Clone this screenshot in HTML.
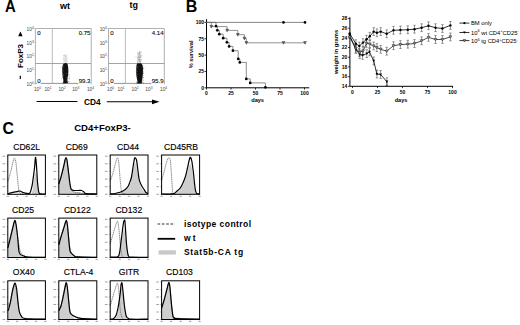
<!DOCTYPE html>
<html><head><meta charset="utf-8"><style>
html,body{margin:0;padding:0;background:#fff;width:520px;height:325px;overflow:hidden}
svg{display:block}
text{font-family:"Liberation Sans",sans-serif}
</style></head><body>
<svg width="520" height="325" viewBox="0 0 520 325">
<rect width="520" height="325" fill="#fff"/>
<text transform="translate(4.9,11.8) scale(0.94,1)" font-size="15.8" font-weight="bold">A</text>
<text x="65" y="8.6" font-size="9" font-weight="bold" text-anchor="middle" fill="#000" >wt</text>
<text x="133.8" y="7.9" font-size="9" font-weight="bold" text-anchor="middle" fill="#000" >tg</text>
<text x="30.2" y="85.7" font-size="4.8" fill="#444" text-anchor="middle">10<tspan font-size="3.3" dy="-2">0</tspan></text>
<line x1="34.199999999999996" y1="83.4" x2="35.4" y2="83.4" stroke="#888" stroke-width="0.4"/>
<text x="30.2" y="71.97500000000001" font-size="4.8" fill="#444" text-anchor="middle">10<tspan font-size="3.3" dy="-2">1</tspan></text>
<line x1="34.199999999999996" y1="69.67500000000001" x2="35.4" y2="69.67500000000001" stroke="#888" stroke-width="0.4"/>
<text x="30.2" y="58.25" font-size="4.8" fill="#444" text-anchor="middle">10<tspan font-size="3.3" dy="-2">2</tspan></text>
<line x1="34.199999999999996" y1="55.95" x2="35.4" y2="55.95" stroke="#888" stroke-width="0.4"/>
<text x="30.2" y="44.525" font-size="4.8" fill="#444" text-anchor="middle">10<tspan font-size="3.3" dy="-2">3</tspan></text>
<line x1="34.199999999999996" y1="42.225" x2="35.4" y2="42.225" stroke="#888" stroke-width="0.4"/>
<text x="30.2" y="30.8" font-size="4.8" fill="#444" text-anchor="middle">10<tspan font-size="3.3" dy="-2">4</tspan></text>
<line x1="34.199999999999996" y1="28.5" x2="35.4" y2="28.5" stroke="#888" stroke-width="0.4"/>
<text x="37.5" y="91.30000000000001" font-size="4.8" fill="#444" text-anchor="middle">10<tspan font-size="3.3" dy="-2">0</tspan></text>
<text x="48.0" y="91.30000000000001" font-size="4.8" fill="#444" text-anchor="middle">10<tspan font-size="3.3" dy="-2">1</tspan></text>
<text x="62.0" y="91.30000000000001" font-size="4.8" fill="#444" text-anchor="middle">10<tspan font-size="3.3" dy="-2">2</tspan></text>
<text x="75.8" y="91.30000000000001" font-size="4.8" fill="#444" text-anchor="middle">10<tspan font-size="3.3" dy="-2">3</tspan></text>
<text x="90.5" y="91.30000000000001" font-size="4.8" fill="#444" text-anchor="middle">10<tspan font-size="3.3" dy="-2">4</tspan></text>
<line x1="35.4" y1="83.4" x2="35.4" y2="84.60000000000001" stroke="#888" stroke-width="0.4"/>
<line x1="49.35" y1="83.4" x2="49.35" y2="84.60000000000001" stroke="#888" stroke-width="0.4"/>
<line x1="63.3" y1="83.4" x2="63.3" y2="84.60000000000001" stroke="#888" stroke-width="0.4"/>
<line x1="77.25" y1="83.4" x2="77.25" y2="84.60000000000001" stroke="#888" stroke-width="0.4"/>
<line x1="91.2" y1="83.4" x2="91.2" y2="84.60000000000001" stroke="#888" stroke-width="0.4"/>
<path d="M35.4,83.4 V28.5 H91.2 V83.4" fill="none" stroke="#b0b0b0" stroke-width="1"/>
<path d="M35.4,83.4 H91.2" fill="none" stroke="#8a8a8a" stroke-width="0.9"/>
<line x1="52.3" y1="28.5" x2="52.3" y2="83.4" stroke="#b4b4b4" stroke-width="0.9"/>
<line x1="35.4" y1="63.5" x2="91.2" y2="63.5" stroke="#9a9a9a" stroke-width="0.9"/>
<ellipse cx="65.2" cy="59.5" rx="2.4" ry="4.5" fill="#c8c8c8" opacity="0.35"/>
<rect x="64.9" y="59.9" width="0.7" height="0.7" fill="#c8c8c8"/>
<rect x="65.8" y="54.7" width="0.7" height="0.7" fill="#c8c8c8"/>
<rect x="64.1" y="54.5" width="0.7" height="0.7" fill="#c8c8c8"/>
<rect x="64.9" y="58.6" width="0.7" height="0.7" fill="#c8c8c8"/>
<rect x="66.4" y="54.6" width="0.7" height="0.7" fill="#c8c8c8"/>
<rect x="65.5" y="54.8" width="0.7" height="0.7" fill="#c8c8c8"/>
<rect x="63.2" y="55.1" width="0.7" height="0.7" fill="#c8c8c8"/>
<rect x="66.2" y="56.0" width="0.7" height="0.7" fill="#c8c8c8"/>
<rect x="63.2" y="59.2" width="0.7" height="0.7" fill="#c8c8c8"/>
<rect x="63.1" y="57.6" width="0.7" height="0.7" fill="#c8c8c8"/>
<rect x="65.6" y="61.7" width="0.7" height="0.7" fill="#c8c8c8"/>
<rect x="65.1" y="56.6" width="0.7" height="0.7" fill="#c8c8c8"/>
<rect x="65.6" y="56.8" width="0.7" height="0.7" fill="#c8c8c8"/>
<rect x="65.7" y="61.3" width="0.7" height="0.7" fill="#c8c8c8"/>
<rect x="65.9" y="59.8" width="0.7" height="0.7" fill="#c8c8c8"/>
<rect x="66.6" y="57.4" width="0.7" height="0.7" fill="#c8c8c8"/>
<rect x="64.8" y="54.5" width="0.7" height="0.7" fill="#c8c8c8"/>
<rect x="65.1" y="55.9" width="0.7" height="0.7" fill="#c8c8c8"/>
<rect x="64.7" y="56.8" width="0.7" height="0.7" fill="#c8c8c8"/>
<rect x="64.1" y="59.3" width="0.7" height="0.7" fill="#c8c8c8"/>
<rect x="64.2" y="61.1" width="0.7" height="0.7" fill="#c8c8c8"/>
<rect x="65.5" y="60.3" width="0.7" height="0.7" fill="#c8c8c8"/>
<rect x="65.3" y="58.7" width="0.7" height="0.7" fill="#c8c8c8"/>
<rect x="66.8" y="61.9" width="0.7" height="0.7" fill="#c8c8c8"/>
<rect x="65.1" y="62.8" width="0.7" height="0.7" fill="#c8c8c8"/>
<rect x="64.2" y="55.1" width="0.7" height="0.7" fill="#c8c8c8"/>
<rect x="63.4" y="55.4" width="0.7" height="0.7" fill="#c8c8c8"/>
<rect x="66.2" y="58.4" width="0.7" height="0.7" fill="#c8c8c8"/>
<rect x="66.9" y="60.9" width="0.7" height="0.7" fill="#c8c8c8"/>
<rect x="65.6" y="59.2" width="0.7" height="0.7" fill="#c8c8c8"/>
<path d="M65.60,62.90 C65.87,63.02 66.80,63.08 67.20,63.60 C67.60,64.12 67.82,64.93 68.00,66.00 C68.18,67.07 68.30,68.50 68.30,70.00 C68.30,71.50 68.15,73.33 68.00,75.00 C67.85,76.67 67.43,78.75 67.40,80.00 C67.37,81.25 67.78,81.95 67.80,82.50 C67.82,83.05 68.30,83.17 67.50,83.30 C66.70,83.43 63.70,83.52 63.00,83.30 C62.30,83.08 63.25,82.55 63.30,82.00 C63.35,81.45 63.42,81.17 63.30,80.00 C63.18,78.83 62.78,76.67 62.60,75.00 C62.42,73.33 62.22,71.50 62.20,70.00 C62.18,68.50 62.23,67.07 62.50,66.00 C62.77,64.93 63.28,64.12 63.80,63.60 C64.32,63.08 65.30,63.02 65.60,62.90Z" fill="#111"/>
<rect x="67.8" y="81.0" width="0.6" height="0.6" fill="#666"/>
<rect x="68.6" y="74.0" width="0.6" height="0.6" fill="#666"/>
<rect x="63.1" y="66.2" width="0.6" height="0.6" fill="#666"/>
<rect x="62.1" y="77.1" width="0.6" height="0.6" fill="#666"/>
<rect x="66.8" y="78.4" width="0.6" height="0.6" fill="#666"/>
<rect x="66.3" y="80.0" width="0.6" height="0.6" fill="#666"/>
<rect x="68.9" y="78.1" width="0.6" height="0.6" fill="#666"/>
<rect x="62.5" y="68.0" width="0.6" height="0.6" fill="#666"/>
<rect x="62.4" y="74.0" width="0.6" height="0.6" fill="#666"/>
<rect x="67.7" y="69.5" width="0.6" height="0.6" fill="#666"/>
<rect x="68.8" y="81.8" width="0.6" height="0.6" fill="#666"/>
<rect x="62.8" y="75.0" width="0.6" height="0.6" fill="#666"/>
<rect x="67.5" y="80.0" width="0.6" height="0.6" fill="#666"/>
<rect x="66.1" y="77.5" width="0.6" height="0.6" fill="#666"/>
<rect x="62.7" y="82.5" width="0.6" height="0.6" fill="#666"/>
<rect x="62.6" y="77.0" width="0.6" height="0.6" fill="#666"/>
<rect x="62.4" y="73.8" width="0.6" height="0.6" fill="#666"/>
<rect x="68.2" y="72.6" width="0.6" height="0.6" fill="#666"/>
<rect x="69.1" y="76.1" width="0.6" height="0.6" fill="#666"/>
<rect x="62.1" y="74.4" width="0.6" height="0.6" fill="#666"/>
<rect x="67.5" y="73.3" width="0.6" height="0.6" fill="#666"/>
<rect x="68.5" y="73.8" width="0.6" height="0.6" fill="#666"/>
<rect x="63.2" y="66.0" width="0.6" height="0.6" fill="#666"/>
<rect x="62.3" y="66.9" width="0.6" height="0.6" fill="#666"/>
<rect x="60.7" y="66.8" width="0.6" height="0.6" fill="#666"/>
<rect x="62.0" y="76.2" width="0.6" height="0.6" fill="#666"/>
<rect x="68.4" y="81.0" width="0.6" height="0.6" fill="#666"/>
<rect x="68.5" y="71.3" width="0.6" height="0.6" fill="#666"/>
<rect x="63.7" y="73.6" width="0.6" height="0.6" fill="#666"/>
<rect x="66.3" y="73.5" width="0.6" height="0.6" fill="#666"/>
<rect x="62.9" y="70.6" width="0.6" height="0.6" fill="#666"/>
<rect x="62.8" y="69.8" width="0.6" height="0.6" fill="#666"/>
<rect x="63.2" y="74.4" width="0.6" height="0.6" fill="#666"/>
<rect x="62.1" y="67.6" width="0.6" height="0.6" fill="#666"/>
<rect x="69.5" y="78.8" width="0.6" height="0.6" fill="#666"/>
<rect x="67.9" y="77.7" width="0.6" height="0.6" fill="#666"/>
<rect x="62.1" y="74.4" width="0.6" height="0.6" fill="#666"/>
<rect x="68.5" y="74.9" width="0.6" height="0.6" fill="#666"/>
<rect x="62.8" y="76.6" width="0.6" height="0.6" fill="#666"/>
<rect x="61.2" y="78.5" width="0.6" height="0.6" fill="#666"/>
<rect x="36.9" y="78.4" width="4" height="5.5" fill="#fff"/>
<rect x="78.2" y="78.4" width="12.6" height="5.5" fill="#fff"/>
<text x="37.199999999999996" y="34.6" font-size="6.1" text-anchor="start" fill="#111" stroke="#111" stroke-width="0.12">0</text>
<text x="90.5" y="34.6" font-size="6.1" text-anchor="end" fill="#111" stroke="#111" stroke-width="0.12">0.75</text>
<text x="37.199999999999996" y="82.9" font-size="6.1" text-anchor="start" fill="#111" stroke="#111" stroke-width="0.12">0</text>
<text x="90.5" y="83.10000000000001" font-size="6.1" text-anchor="end" fill="#111" stroke="#111" stroke-width="0.12">99.3</text>
<text x="103.3" y="85.7" font-size="4.8" fill="#444" text-anchor="middle">10<tspan font-size="3.3" dy="-2">0</tspan></text>
<line x1="107.3" y1="83.4" x2="108.5" y2="83.4" stroke="#888" stroke-width="0.4"/>
<text x="103.3" y="71.97500000000001" font-size="4.8" fill="#444" text-anchor="middle">10<tspan font-size="3.3" dy="-2">1</tspan></text>
<line x1="107.3" y1="69.67500000000001" x2="108.5" y2="69.67500000000001" stroke="#888" stroke-width="0.4"/>
<text x="103.3" y="58.25" font-size="4.8" fill="#444" text-anchor="middle">10<tspan font-size="3.3" dy="-2">2</tspan></text>
<line x1="107.3" y1="55.95" x2="108.5" y2="55.95" stroke="#888" stroke-width="0.4"/>
<text x="103.3" y="44.525" font-size="4.8" fill="#444" text-anchor="middle">10<tspan font-size="3.3" dy="-2">3</tspan></text>
<line x1="107.3" y1="42.225" x2="108.5" y2="42.225" stroke="#888" stroke-width="0.4"/>
<text x="103.3" y="30.8" font-size="4.8" fill="#444" text-anchor="middle">10<tspan font-size="3.3" dy="-2">4</tspan></text>
<line x1="107.3" y1="28.5" x2="108.5" y2="28.5" stroke="#888" stroke-width="0.4"/>
<text x="110.6" y="91.30000000000001" font-size="4.8" fill="#444" text-anchor="middle">10<tspan font-size="3.3" dy="-2">0</tspan></text>
<text x="121.1" y="91.30000000000001" font-size="4.8" fill="#444" text-anchor="middle">10<tspan font-size="3.3" dy="-2">1</tspan></text>
<text x="135.1" y="91.30000000000001" font-size="4.8" fill="#444" text-anchor="middle">10<tspan font-size="3.3" dy="-2">2</tspan></text>
<text x="148.9" y="91.30000000000001" font-size="4.8" fill="#444" text-anchor="middle">10<tspan font-size="3.3" dy="-2">3</tspan></text>
<text x="163.6" y="91.30000000000001" font-size="4.8" fill="#444" text-anchor="middle">10<tspan font-size="3.3" dy="-2">4</tspan></text>
<line x1="108.5" y1="83.4" x2="108.5" y2="84.60000000000001" stroke="#888" stroke-width="0.4"/>
<line x1="122.45" y1="83.4" x2="122.45" y2="84.60000000000001" stroke="#888" stroke-width="0.4"/>
<line x1="136.4" y1="83.4" x2="136.4" y2="84.60000000000001" stroke="#888" stroke-width="0.4"/>
<line x1="150.35000000000002" y1="83.4" x2="150.35000000000002" y2="84.60000000000001" stroke="#888" stroke-width="0.4"/>
<line x1="164.3" y1="83.4" x2="164.3" y2="84.60000000000001" stroke="#888" stroke-width="0.4"/>
<path d="M108.5,83.4 V28.5 H164.3 V83.4" fill="none" stroke="#b0b0b0" stroke-width="1"/>
<path d="M108.5,83.4 H164.3" fill="none" stroke="#8a8a8a" stroke-width="0.9"/>
<line x1="125.4" y1="28.5" x2="125.4" y2="83.4" stroke="#b4b4b4" stroke-width="0.9"/>
<line x1="108.5" y1="63.5" x2="164.3" y2="63.5" stroke="#9a9a9a" stroke-width="0.9"/>
<ellipse cx="139.0" cy="58.5" rx="2.2" ry="6.5" fill="#aaa" opacity="0.35"/>
<rect x="139.4" y="60.5" width="0.7" height="0.7" fill="#aaa"/>
<rect x="140.2" y="63.9" width="0.7" height="0.7" fill="#aaa"/>
<rect x="139.3" y="53.5" width="0.7" height="0.7" fill="#aaa"/>
<rect x="137.8" y="58.9" width="0.7" height="0.7" fill="#aaa"/>
<rect x="137.9" y="60.4" width="0.7" height="0.7" fill="#aaa"/>
<rect x="140.7" y="55.5" width="0.7" height="0.7" fill="#aaa"/>
<rect x="139.4" y="52.3" width="0.7" height="0.7" fill="#aaa"/>
<rect x="138.9" y="57.1" width="0.7" height="0.7" fill="#aaa"/>
<rect x="138.3" y="63.8" width="0.7" height="0.7" fill="#aaa"/>
<rect x="140.1" y="58.9" width="0.7" height="0.7" fill="#aaa"/>
<rect x="141.4" y="55.5" width="0.7" height="0.7" fill="#aaa"/>
<rect x="139.0" y="59.4" width="0.7" height="0.7" fill="#aaa"/>
<rect x="139.3" y="56.1" width="0.7" height="0.7" fill="#aaa"/>
<rect x="138.5" y="60.2" width="0.7" height="0.7" fill="#aaa"/>
<rect x="139.7" y="56.6" width="0.7" height="0.7" fill="#aaa"/>
<rect x="141.2" y="59.3" width="0.7" height="0.7" fill="#aaa"/>
<rect x="141.3" y="60.4" width="0.7" height="0.7" fill="#aaa"/>
<rect x="140.4" y="57.0" width="0.7" height="0.7" fill="#aaa"/>
<rect x="139.0" y="53.1" width="0.7" height="0.7" fill="#aaa"/>
<rect x="138.5" y="63.9" width="0.7" height="0.7" fill="#aaa"/>
<rect x="140.4" y="57.0" width="0.7" height="0.7" fill="#aaa"/>
<rect x="139.3" y="59.5" width="0.7" height="0.7" fill="#aaa"/>
<rect x="137.9" y="57.2" width="0.7" height="0.7" fill="#aaa"/>
<rect x="138.0" y="63.2" width="0.7" height="0.7" fill="#aaa"/>
<rect x="139.8" y="51.3" width="0.7" height="0.7" fill="#aaa"/>
<rect x="140.2" y="61.4" width="0.7" height="0.7" fill="#aaa"/>
<rect x="138.9" y="60.7" width="0.7" height="0.7" fill="#aaa"/>
<rect x="138.5" y="52.8" width="0.7" height="0.7" fill="#aaa"/>
<rect x="139.7" y="62.4" width="0.7" height="0.7" fill="#aaa"/>
<rect x="138.9" y="51.4" width="0.7" height="0.7" fill="#aaa"/>
<rect x="139.3" y="60.9" width="0.7" height="0.7" fill="#aaa"/>
<rect x="140.3" y="55.2" width="0.7" height="0.7" fill="#aaa"/>
<rect x="137.0" y="51.8" width="0.7" height="0.7" fill="#aaa"/>
<rect x="138.4" y="60.6" width="0.7" height="0.7" fill="#aaa"/>
<rect x="140.3" y="61.6" width="0.7" height="0.7" fill="#aaa"/>
<rect x="138.0" y="57.7" width="0.7" height="0.7" fill="#aaa"/>
<rect x="140.1" y="52.7" width="0.7" height="0.7" fill="#aaa"/>
<rect x="137.0" y="53.0" width="0.7" height="0.7" fill="#aaa"/>
<rect x="136.8" y="61.1" width="0.7" height="0.7" fill="#aaa"/>
<rect x="138.9" y="58.9" width="0.7" height="0.7" fill="#aaa"/>
<rect x="139.1" y="52.8" width="0.7" height="0.7" fill="#aaa"/>
<rect x="138.4" y="59.0" width="0.7" height="0.7" fill="#aaa"/>
<rect x="139.3" y="59.9" width="0.7" height="0.7" fill="#aaa"/>
<rect x="139.3" y="57.9" width="0.7" height="0.7" fill="#aaa"/>
<rect x="137.1" y="62.5" width="0.7" height="0.7" fill="#aaa"/>
<rect x="139.2" y="51.7" width="0.7" height="0.7" fill="#aaa"/>
<rect x="139.1" y="52.3" width="0.7" height="0.7" fill="#aaa"/>
<rect x="139.3" y="56.9" width="0.7" height="0.7" fill="#aaa"/>
<rect x="141.3" y="51.8" width="0.7" height="0.7" fill="#aaa"/>
<rect x="139.4" y="55.2" width="0.7" height="0.7" fill="#aaa"/>
<rect x="140.5" y="53.6" width="0.7" height="0.7" fill="#aaa"/>
<rect x="138.7" y="54.6" width="0.7" height="0.7" fill="#aaa"/>
<rect x="137.0" y="57.6" width="0.7" height="0.7" fill="#aaa"/>
<rect x="138.9" y="54.2" width="0.7" height="0.7" fill="#aaa"/>
<rect x="136.8" y="63.1" width="0.7" height="0.7" fill="#aaa"/>
<rect x="138.7" y="63.0" width="0.7" height="0.7" fill="#aaa"/>
<rect x="139.6" y="56.8" width="0.7" height="0.7" fill="#aaa"/>
<rect x="138.5" y="56.4" width="0.7" height="0.7" fill="#aaa"/>
<rect x="138.3" y="59.7" width="0.7" height="0.7" fill="#aaa"/>
<rect x="139.6" y="56.6" width="0.7" height="0.7" fill="#aaa"/>
<rect x="139.2" y="52.6" width="0.7" height="0.7" fill="#aaa"/>
<rect x="139.9" y="61.1" width="0.7" height="0.7" fill="#aaa"/>
<rect x="140.5" y="55.8" width="0.7" height="0.7" fill="#aaa"/>
<rect x="138.4" y="54.3" width="0.7" height="0.7" fill="#aaa"/>
<rect x="139.8" y="60.7" width="0.7" height="0.7" fill="#aaa"/>
<rect x="139.9" y="52.2" width="0.7" height="0.7" fill="#aaa"/>
<rect x="139.5" y="59.7" width="0.7" height="0.7" fill="#aaa"/>
<rect x="138.6" y="53.9" width="0.7" height="0.7" fill="#aaa"/>
<rect x="138.0" y="56.2" width="0.7" height="0.7" fill="#aaa"/>
<rect x="135.6" y="56.5" width="0.7" height="0.7" fill="#aaa"/>
<path d="M139.20,63.20 C139.55,63.23 140.73,63.02 141.30,63.40 C141.87,63.78 142.32,64.40 142.60,65.50 C142.88,66.60 142.97,68.42 143.00,70.00 C143.03,71.58 142.92,73.50 142.80,75.00 C142.68,76.50 142.47,77.83 142.30,79.00 C142.13,80.17 141.82,81.28 141.80,82.00 C141.78,82.72 143.00,83.08 142.20,83.30 C141.40,83.52 137.78,83.52 137.00,83.30 C136.22,83.08 137.50,82.72 137.50,82.00 C137.50,81.28 137.20,80.17 137.00,79.00 C136.80,77.83 136.43,76.50 136.30,75.00 C136.17,73.50 136.17,71.58 136.20,70.00 C136.23,68.42 136.32,66.58 136.50,65.50 C136.68,64.42 136.85,63.88 137.30,63.50 C137.75,63.12 138.88,63.25 139.20,63.20Z" fill="#111"/>
<rect x="136.4" y="71.7" width="0.6" height="0.6" fill="#666"/>
<rect x="142.7" y="75.2" width="0.6" height="0.6" fill="#666"/>
<rect x="142.3" y="77.9" width="0.6" height="0.6" fill="#666"/>
<rect x="137.3" y="74.5" width="0.6" height="0.6" fill="#666"/>
<rect x="136.7" y="67.2" width="0.6" height="0.6" fill="#666"/>
<rect x="136.3" y="70.0" width="0.6" height="0.6" fill="#666"/>
<rect x="136.4" y="81.6" width="0.6" height="0.6" fill="#666"/>
<rect x="143.2" y="72.8" width="0.6" height="0.6" fill="#666"/>
<rect x="142.7" y="72.5" width="0.6" height="0.6" fill="#666"/>
<rect x="136.1" y="66.2" width="0.6" height="0.6" fill="#666"/>
<rect x="136.4" y="72.9" width="0.6" height="0.6" fill="#666"/>
<rect x="142.9" y="66.8" width="0.6" height="0.6" fill="#666"/>
<rect x="137.7" y="66.7" width="0.6" height="0.6" fill="#666"/>
<rect x="143.4" y="73.4" width="0.6" height="0.6" fill="#666"/>
<rect x="143.3" y="83.2" width="0.6" height="0.6" fill="#666"/>
<rect x="136.2" y="67.5" width="0.6" height="0.6" fill="#666"/>
<rect x="136.4" y="82.2" width="0.6" height="0.6" fill="#666"/>
<rect x="143.2" y="82.1" width="0.6" height="0.6" fill="#666"/>
<rect x="136.2" y="74.8" width="0.6" height="0.6" fill="#666"/>
<rect x="143.6" y="68.4" width="0.6" height="0.6" fill="#666"/>
<rect x="142.9" y="79.7" width="0.6" height="0.6" fill="#666"/>
<rect x="136.4" y="74.4" width="0.6" height="0.6" fill="#666"/>
<rect x="136.7" y="74.5" width="0.6" height="0.6" fill="#666"/>
<rect x="142.7" y="80.0" width="0.6" height="0.6" fill="#666"/>
<rect x="143.4" y="77.1" width="0.6" height="0.6" fill="#666"/>
<rect x="136.3" y="69.1" width="0.6" height="0.6" fill="#666"/>
<rect x="135.9" y="71.4" width="0.6" height="0.6" fill="#666"/>
<rect x="136.8" y="66.2" width="0.6" height="0.6" fill="#666"/>
<rect x="142.6" y="65.5" width="0.6" height="0.6" fill="#666"/>
<rect x="142.9" y="77.2" width="0.6" height="0.6" fill="#666"/>
<rect x="141.9" y="81.0" width="0.6" height="0.6" fill="#666"/>
<rect x="135.8" y="66.0" width="0.6" height="0.6" fill="#666"/>
<rect x="143.5" y="68.1" width="0.6" height="0.6" fill="#666"/>
<rect x="142.8" y="71.2" width="0.6" height="0.6" fill="#666"/>
<rect x="142.9" y="69.6" width="0.6" height="0.6" fill="#666"/>
<rect x="136.8" y="71.3" width="0.6" height="0.6" fill="#666"/>
<rect x="136.4" y="73.8" width="0.6" height="0.6" fill="#666"/>
<rect x="137.6" y="66.8" width="0.6" height="0.6" fill="#666"/>
<rect x="135.9" y="67.8" width="0.6" height="0.6" fill="#666"/>
<rect x="136.8" y="76.6" width="0.6" height="0.6" fill="#666"/>
<rect x="110.0" y="78.4" width="4" height="5.5" fill="#fff"/>
<rect x="151.3" y="78.4" width="12.6" height="5.5" fill="#fff"/>
<text x="110.3" y="34.6" font-size="6.1" text-anchor="start" fill="#111" stroke="#111" stroke-width="0.12">0</text>
<text x="163.60000000000002" y="34.6" font-size="6.1" text-anchor="end" fill="#111" stroke="#111" stroke-width="0.12">4.14</text>
<text x="110.3" y="82.9" font-size="6.1" text-anchor="start" fill="#111" stroke="#111" stroke-width="0.12">0</text>
<text x="163.60000000000002" y="83.10000000000001" font-size="6.1" text-anchor="end" fill="#111" stroke="#111" stroke-width="0.12">95.9</text>
<path d="M20.4,31.5 L22.6,36.2 L18.2,36.2Z" fill="#000"/>
<text transform="translate(22.5,56) rotate(-90)" font-size="8" font-weight="bold" text-anchor="middle">FoxP3</text>
<line x1="20.3" y1="75.8" x2="20.3" y2="79" stroke="#000" stroke-width="1.2"/>
<line x1="36.6" y1="101.5" x2="77.4" y2="101.5" stroke="#000" stroke-width="1.1"/>
<text x="84.0" y="104.7" font-size="9.8" font-weight="bold" text-anchor="start" fill="#000" textLength="16.6" lengthAdjust="spacingAndGlyphs">CD4</text>
<line x1="106.8" y1="101.8" x2="154" y2="101.8" stroke="#000" stroke-width="1.1"/>
<path d="M152,99.4 L159.5,101.8 L152,104.2Z" fill="#000"/>
<text transform="translate(185.7,12.1)" font-size="16" font-weight="bold">B</text>
<line x1="206.5" y1="19.2" x2="206.5" y2="87.8" stroke="#000" stroke-width="1"/>
<line x1="206.5" y1="87.8" x2="309.2" y2="87.8" stroke="#000" stroke-width="1"/>
<line x1="204.5" y1="87.8" x2="206.5" y2="87.8" stroke="#000" stroke-width="0.8"/>
<text x="204.1" y="89.6" font-size="5" font-weight="bold" text-anchor="end" fill="#000" >0</text>
<line x1="204.5" y1="71.44999999999999" x2="206.5" y2="71.44999999999999" stroke="#000" stroke-width="0.8"/>
<text x="204.1" y="73.24999999999999" font-size="5" font-weight="bold" text-anchor="end" fill="#000" >25</text>
<line x1="204.5" y1="55.099999999999994" x2="206.5" y2="55.099999999999994" stroke="#000" stroke-width="0.8"/>
<text x="204.1" y="56.89999999999999" font-size="5" font-weight="bold" text-anchor="end" fill="#000" >50</text>
<line x1="204.5" y1="38.74999999999999" x2="206.5" y2="38.74999999999999" stroke="#000" stroke-width="0.8"/>
<text x="204.1" y="40.54999999999999" font-size="5" font-weight="bold" text-anchor="end" fill="#000" >75</text>
<line x1="204.5" y1="22.39999999999999" x2="206.5" y2="22.39999999999999" stroke="#000" stroke-width="0.8"/>
<text x="204.1" y="24.199999999999992" font-size="5" font-weight="bold" text-anchor="end" fill="#000" >100</text>
<line x1="206.5" y1="87.8" x2="206.5" y2="89.6" stroke="#000" stroke-width="0.8"/>
<text x="206.5" y="94.6" font-size="5" font-weight="bold" text-anchor="middle" fill="#000" >0</text>
<line x1="231.0" y1="87.8" x2="231.0" y2="89.6" stroke="#000" stroke-width="0.8"/>
<text x="231.0" y="94.6" font-size="5" font-weight="bold" text-anchor="middle" fill="#000" >25</text>
<line x1="255.5" y1="87.8" x2="255.5" y2="89.6" stroke="#000" stroke-width="0.8"/>
<text x="255.5" y="94.6" font-size="5" font-weight="bold" text-anchor="middle" fill="#000" >50</text>
<line x1="280.0" y1="87.8" x2="280.0" y2="89.6" stroke="#000" stroke-width="0.8"/>
<text x="280.0" y="94.6" font-size="5" font-weight="bold" text-anchor="middle" fill="#000" >75</text>
<line x1="304.5" y1="87.8" x2="304.5" y2="89.6" stroke="#000" stroke-width="0.8"/>
<text x="304.5" y="94.6" font-size="5" font-weight="bold" text-anchor="middle" fill="#000" >100</text>
<text transform="translate(192.8,54.4) rotate(-90)" font-size="5.6" font-weight="bold" text-anchor="middle">% survival</text>
<text x="257.6" y="102.2" font-size="5.6" font-weight="bold" text-anchor="middle" fill="#000" >days</text>
<line x1="206.5" y1="22.4" x2="305" y2="22.4" stroke="#777" stroke-width="0.9"/>
<circle cx="283.5" cy="22.4" r="1.35" fill="#000"/>
<circle cx="305.0" cy="22.4" r="1.35" fill="#000"/>
<path d="M206.5,22.4 H211.3 V26.6 H227.1 V30.4 H237.8 V34.7 H244.4 V38.4 H246.3 V42.8 H305" fill="none" stroke="#777" stroke-width="0.8"/>
<path d="M209.9,25.4 L212.8,25.4 L211.3,28.1Z" fill="#666" stroke="#333" stroke-width="0.5"/>
<path d="M225.7,29.2 L228.5,29.2 L227.1,31.8Z" fill="#666" stroke="#333" stroke-width="0.5"/>
<path d="M236.4,33.5 L239.2,33.5 L237.8,36.2Z" fill="#666" stroke="#333" stroke-width="0.5"/>
<path d="M243.0,37.2 L245.8,37.2 L244.4,39.9Z" fill="#666" stroke="#333" stroke-width="0.5"/>
<path d="M244.9,41.6 L247.8,41.6 L246.3,44.2Z" fill="#666" stroke="#333" stroke-width="0.5"/>
<path d="M282.1,41.6 L284.9,41.6 L283.5,44.2Z" fill="#666" stroke="#333" stroke-width="0.5"/>
<path d="M303.6,41.6 L306.4,41.6 L305.0,44.2Z" fill="#666" stroke="#333" stroke-width="0.5"/>
<path d="M206.5,22.4 H216 V26.1 H217.3 V30.3 H219.3 V34.2 H223.2 V38.2 H226.9 V42.3 H229.1 V46.4 H232.9 V50.7 H238.2 V58.9 H239.8 V62.4 H246.3 V78.9 H250.2 V82.9 H265.4 V87.3" fill="none" stroke="#666" stroke-width="0.75"/>
<circle cx="216.0" cy="26.1" r="1.35" fill="#000"/>
<circle cx="217.3" cy="30.3" r="1.35" fill="#000"/>
<circle cx="219.3" cy="34.2" r="1.35" fill="#000"/>
<circle cx="223.2" cy="38.2" r="1.35" fill="#000"/>
<circle cx="226.9" cy="42.3" r="1.35" fill="#000"/>
<circle cx="229.1" cy="46.4" r="1.35" fill="#000"/>
<circle cx="232.9" cy="50.7" r="1.35" fill="#000"/>
<circle cx="238.2" cy="58.9" r="1.35" fill="#000"/>
<circle cx="239.8" cy="62.4" r="1.35" fill="#000"/>
<circle cx="246.3" cy="78.9" r="1.35" fill="#000"/>
<circle cx="250.2" cy="82.9" r="1.35" fill="#000"/>
<circle cx="265.4" cy="87.3" r="1.35" fill="#000"/>
<line x1="349.9" y1="17.2" x2="349.9" y2="86.3" stroke="#000" stroke-width="1"/>
<line x1="349.9" y1="86.3" x2="453" y2="86.3" stroke="#000" stroke-width="1"/>
<line x1="348.09999999999997" y1="86.30199999999999" x2="349.9" y2="86.30199999999999" stroke="#000" stroke-width="0.8"/>
<text x="347.29999999999995" y="88.10199999999999" font-size="5" font-weight="bold" text-anchor="end" fill="#000" >14</text>
<line x1="348.09999999999997" y1="76.616" x2="349.9" y2="76.616" stroke="#000" stroke-width="0.8"/>
<text x="347.29999999999995" y="78.416" font-size="5" font-weight="bold" text-anchor="end" fill="#000" >16</text>
<line x1="348.09999999999997" y1="66.93" x2="349.9" y2="66.93" stroke="#000" stroke-width="0.8"/>
<text x="347.29999999999995" y="68.73" font-size="5" font-weight="bold" text-anchor="end" fill="#000" >18</text>
<line x1="348.09999999999997" y1="57.244" x2="349.9" y2="57.244" stroke="#000" stroke-width="0.8"/>
<text x="347.29999999999995" y="59.044" font-size="5" font-weight="bold" text-anchor="end" fill="#000" >20</text>
<line x1="348.09999999999997" y1="47.558" x2="349.9" y2="47.558" stroke="#000" stroke-width="0.8"/>
<text x="347.29999999999995" y="49.358" font-size="5" font-weight="bold" text-anchor="end" fill="#000" >22</text>
<line x1="348.09999999999997" y1="37.872" x2="349.9" y2="37.872" stroke="#000" stroke-width="0.8"/>
<text x="347.29999999999995" y="39.672" font-size="5" font-weight="bold" text-anchor="end" fill="#000" >24</text>
<line x1="348.09999999999997" y1="28.186" x2="349.9" y2="28.186" stroke="#000" stroke-width="0.8"/>
<text x="347.29999999999995" y="29.986" font-size="5" font-weight="bold" text-anchor="end" fill="#000" >26</text>
<line x1="348.09999999999997" y1="18.5" x2="349.9" y2="18.5" stroke="#000" stroke-width="0.8"/>
<text x="347.29999999999995" y="20.3" font-size="5" font-weight="bold" text-anchor="end" fill="#000" >28</text>
<line x1="352.5" y1="86.3" x2="352.5" y2="88.1" stroke="#000" stroke-width="0.8"/>
<text x="352.5" y="94.2" font-size="5" font-weight="bold" text-anchor="middle" fill="#000" >0</text>
<line x1="377.5" y1="86.3" x2="377.5" y2="88.1" stroke="#000" stroke-width="0.8"/>
<text x="377.5" y="94.2" font-size="5" font-weight="bold" text-anchor="middle" fill="#000" >25</text>
<line x1="402.5" y1="86.3" x2="402.5" y2="88.1" stroke="#000" stroke-width="0.8"/>
<text x="402.5" y="94.2" font-size="5" font-weight="bold" text-anchor="middle" fill="#000" >50</text>
<line x1="427.5" y1="86.3" x2="427.5" y2="88.1" stroke="#000" stroke-width="0.8"/>
<text x="427.5" y="94.2" font-size="5" font-weight="bold" text-anchor="middle" fill="#000" >75</text>
<line x1="452.5" y1="86.3" x2="452.5" y2="88.1" stroke="#000" stroke-width="0.8"/>
<text x="452.5" y="94.2" font-size="5" font-weight="bold" text-anchor="middle" fill="#000" >100</text>
<text transform="translate(338.2,51.9) rotate(-90)" font-size="5.8" font-weight="bold" text-anchor="middle">weight in grams</text>
<text x="401" y="101.6" font-size="5.6" font-weight="bold" text-anchor="middle" fill="#000" >days</text>
<path d="M355.8,39.800000000000004 V47.6 M354.6,39.800000000000004 H357.0 M354.6,47.6 H357.0" stroke="#444" stroke-width="0.55" fill="none"/>
<path d="M359.3,42.1 V49.9 M358.1,42.1 H360.5 M358.1,49.9 H360.5" stroke="#444" stroke-width="0.55" fill="none"/>
<path d="M363,38.7 V46.5 M361.8,38.7 H364.2 M361.8,46.5 H364.2" stroke="#444" stroke-width="0.55" fill="none"/>
<path d="M366.5,35.4 V43.199999999999996 M365.3,35.4 H367.7 M365.3,43.199999999999996 H367.7" stroke="#444" stroke-width="0.55" fill="none"/>
<path d="M369.8,32.4 V40.199999999999996 M368.6,32.4 H371.0 M368.6,40.199999999999996 H371.0" stroke="#444" stroke-width="0.55" fill="none"/>
<path d="M373.7,27.700000000000003 V35.5 M372.5,27.700000000000003 H374.9 M372.5,35.5 H374.9" stroke="#444" stroke-width="0.55" fill="none"/>
<path d="M376.9,28.9 V36.699999999999996 M375.7,28.9 H378.09999999999997 M375.7,36.699999999999996 H378.09999999999997" stroke="#444" stroke-width="0.55" fill="none"/>
<path d="M380.7,27.700000000000003 V35.5 M379.5,27.700000000000003 H381.9 M379.5,35.5 H381.9" stroke="#444" stroke-width="0.55" fill="none"/>
<path d="M386.7,29.9 V37.699999999999996 M385.5,29.9 H387.9 M385.5,37.699999999999996 H387.9" stroke="#444" stroke-width="0.55" fill="none"/>
<path d="M393.5,26.400000000000002 V34.2 M392.3,26.400000000000002 H394.7 M392.3,34.2 H394.7" stroke="#444" stroke-width="0.55" fill="none"/>
<path d="M400.4,26.1 V33.9 M399.2,26.1 H401.59999999999997 M399.2,33.9 H401.59999999999997" stroke="#444" stroke-width="0.55" fill="none"/>
<path d="M407.8,25.8 V33.6 M406.6,25.8 H409.0 M406.6,33.6 H409.0" stroke="#444" stroke-width="0.55" fill="none"/>
<path d="M414.5,25.3 V33.1 M413.3,25.3 H415.7 M413.3,33.1 H415.7" stroke="#444" stroke-width="0.55" fill="none"/>
<path d="M421.6,23.8 V31.599999999999998 M420.40000000000003,23.8 H422.8 M420.40000000000003,31.599999999999998 H422.8" stroke="#444" stroke-width="0.55" fill="none"/>
<path d="M428.5,21.900000000000002 V29.7 M427.3,21.900000000000002 H429.7 M427.3,29.7 H429.7" stroke="#444" stroke-width="0.55" fill="none"/>
<path d="M435.5,23.8 V31.599999999999998 M434.3,23.8 H436.7 M434.3,31.599999999999998 H436.7" stroke="#444" stroke-width="0.55" fill="none"/>
<path d="M442.4,24.6 V32.4 M441.2,24.6 H443.59999999999997 M441.2,32.4 H443.59999999999997" stroke="#444" stroke-width="0.55" fill="none"/>
<path d="M450.4,21.5 V29.299999999999997 M449.2,21.5 H451.59999999999997 M449.2,29.299999999999997 H451.59999999999997" stroke="#444" stroke-width="0.55" fill="none"/>
<path d="M355.8,44.4 V52.199999999999996 M354.6,44.4 H357.0 M354.6,52.199999999999996 H357.0" stroke="#444" stroke-width="0.55" fill="none"/>
<path d="M359.3,48.6 V56.4 M358.1,48.6 H360.5 M358.1,56.4 H360.5" stroke="#444" stroke-width="0.55" fill="none"/>
<path d="M363,47.1 V54.9 M361.8,47.1 H364.2 M361.8,54.9 H364.2" stroke="#444" stroke-width="0.55" fill="none"/>
<path d="M366.5,39.5 V47.3 M365.3,39.5 H367.7 M365.3,47.3 H367.7" stroke="#444" stroke-width="0.55" fill="none"/>
<path d="M369.8,40.1 V47.9 M368.6,40.1 H371.0 M368.6,47.9 H371.0" stroke="#444" stroke-width="0.55" fill="none"/>
<path d="M373.7,42.1 V49.9 M372.5,42.1 H374.9 M372.5,49.9 H374.9" stroke="#444" stroke-width="0.55" fill="none"/>
<path d="M376.9,43.7 V51.5 M375.7,43.7 H378.09999999999997 M375.7,51.5 H378.09999999999997" stroke="#444" stroke-width="0.55" fill="none"/>
<path d="M380.7,45.4 V53.199999999999996 M379.5,45.4 H381.9 M379.5,53.199999999999996 H381.9" stroke="#444" stroke-width="0.55" fill="none"/>
<path d="M386.7,47.300000000000004 V55.1 M385.5,47.300000000000004 H387.9 M385.5,55.1 H387.9" stroke="#444" stroke-width="0.55" fill="none"/>
<path d="M393.5,41.800000000000004 V49.6 M392.3,41.800000000000004 H394.7 M392.3,49.6 H394.7" stroke="#444" stroke-width="0.55" fill="none"/>
<path d="M400.4,40.7 V48.5 M399.2,40.7 H401.59999999999997 M399.2,48.5 H401.59999999999997" stroke="#444" stroke-width="0.55" fill="none"/>
<path d="M407.8,40.300000000000004 V48.1 M406.6,40.300000000000004 H409.0 M406.6,48.1 H409.0" stroke="#444" stroke-width="0.55" fill="none"/>
<path d="M414.5,39.6 V47.4 M413.3,39.6 H415.7 M413.3,47.4 H415.7" stroke="#444" stroke-width="0.55" fill="none"/>
<path d="M421.6,36.9 V44.699999999999996 M420.40000000000003,36.9 H422.8 M420.40000000000003,44.699999999999996 H422.8" stroke="#444" stroke-width="0.55" fill="none"/>
<path d="M428.5,33.5 V41.3 M427.3,33.5 H429.7 M427.3,41.3 H429.7" stroke="#444" stroke-width="0.55" fill="none"/>
<path d="M435.5,35.6 V43.4 M434.3,35.6 H436.7 M434.3,43.4 H436.7" stroke="#444" stroke-width="0.55" fill="none"/>
<path d="M442.4,35.6 V43.4 M441.2,35.6 H443.59999999999997 M441.2,43.4 H443.59999999999997" stroke="#444" stroke-width="0.55" fill="none"/>
<path d="M450.4,33.0 V40.8 M449.2,33.0 H451.59999999999997 M449.2,40.8 H451.59999999999997" stroke="#444" stroke-width="0.55" fill="none"/>
<path d="M355.8,45.6 V53.4 M354.6,45.6 H357.0 M354.6,53.4 H357.0" stroke="#444" stroke-width="0.55" fill="none"/>
<path d="M359.8,50.800000000000004 V58.6 M358.6,50.800000000000004 H361.0 M358.6,58.6 H361.0" stroke="#444" stroke-width="0.55" fill="none"/>
<path d="M362.6,51.5 V59.3 M361.40000000000003,51.5 H363.8 M361.40000000000003,59.3 H363.8" stroke="#444" stroke-width="0.55" fill="none"/>
<path d="M366.8,49.7 V57.5 M365.6,49.7 H368.0 M365.6,57.5 H368.0" stroke="#444" stroke-width="0.55" fill="none"/>
<path d="M369.5,48.0 V55.8 M368.3,48.0 H370.7 M368.3,55.8 H370.7" stroke="#444" stroke-width="0.55" fill="none"/>
<path d="M373.7,57.0 V64.8 M372.5,57.0 H374.9 M372.5,64.8 H374.9" stroke="#444" stroke-width="0.55" fill="none"/>
<path d="M376.9,70.19999999999999 V78.0 M375.7,70.19999999999999 H378.09999999999997 M375.7,78.0 H378.09999999999997" stroke="#444" stroke-width="0.55" fill="none"/>
<path d="M380.6,70.6 V78.4 M379.40000000000003,70.6 H381.8 M379.40000000000003,78.4 H381.8" stroke="#444" stroke-width="0.55" fill="none"/>
<path d="M386.9,77.8 V85.60000000000001 M385.7,77.8 H388.09999999999997 M385.7,85.60000000000001 H388.09999999999997" stroke="#444" stroke-width="0.55" fill="none"/>
<polyline points="349.7,33.5 355.8,43.7 359.3,46.0 363,42.6 366.5,39.3 369.8,36.3 373.7,31.6 376.9,32.8 380.7,31.6 386.7,33.8 393.5,30.3 400.4,30 407.8,29.7 414.5,29.2 421.6,27.7 428.5,25.8 435.5,27.7 442.4,28.5 450.4,25.4" fill="none" stroke="#000" stroke-width="0.8"/>
<polyline points="349.7,37.1 355.8,48.3 359.3,52.5 363,51.0 366.5,43.4 369.8,44.0 373.7,46.0 376.9,47.6 380.7,49.3 386.7,51.2 393.5,45.7 400.4,44.6 407.8,44.2 414.5,43.5 421.6,40.8 428.5,37.4 435.5,39.5 442.4,39.5 450.4,36.9" fill="none" stroke="#222" stroke-width="0.8"/>
<polyline points="349.7,35.3 355.8,49.5 359.8,54.7 362.6,55.4 366.8,53.6 369.5,51.9 373.7,60.9 376.9,74.1 380.6,74.5 386.9,81.7" fill="none" stroke="#000" stroke-width="0.8"/>
<line x1="386.9" y1="81.7" x2="386.9" y2="86.3" stroke="#000" stroke-width="0.6"/>
<circle cx="349.7" cy="33.5" r="1.2" fill="#000"/>
<circle cx="355.8" cy="43.7" r="1.2" fill="#000"/>
<circle cx="359.3" cy="46.0" r="1.2" fill="#000"/>
<circle cx="363.0" cy="42.6" r="1.2" fill="#000"/>
<circle cx="366.5" cy="39.3" r="1.2" fill="#000"/>
<circle cx="369.8" cy="36.3" r="1.2" fill="#000"/>
<circle cx="373.7" cy="31.6" r="1.2" fill="#000"/>
<circle cx="376.9" cy="32.8" r="1.2" fill="#000"/>
<circle cx="380.7" cy="31.6" r="1.2" fill="#000"/>
<circle cx="386.7" cy="33.8" r="1.2" fill="#000"/>
<circle cx="393.5" cy="30.3" r="1.2" fill="#000"/>
<circle cx="400.4" cy="30.0" r="1.2" fill="#000"/>
<circle cx="407.8" cy="29.7" r="1.2" fill="#000"/>
<circle cx="414.5" cy="29.2" r="1.2" fill="#000"/>
<circle cx="421.6" cy="27.7" r="1.2" fill="#000"/>
<circle cx="428.5" cy="25.8" r="1.2" fill="#000"/>
<circle cx="435.5" cy="27.7" r="1.2" fill="#000"/>
<circle cx="442.4" cy="28.5" r="1.2" fill="#000"/>
<circle cx="450.4" cy="25.4" r="1.2" fill="#000"/>
<path d="M348.3,34.2 L351.1,34.2 L349.7,36.7Z" fill="#000"/>
<path d="M354.4,48.4 L357.2,48.4 L355.8,50.9Z" fill="#000"/>
<path d="M358.4,53.6 L361.2,53.6 L359.8,56.1Z" fill="#000"/>
<path d="M361.2,54.3 L364.0,54.3 L362.6,56.8Z" fill="#000"/>
<path d="M365.4,52.5 L368.2,52.5 L366.8,55.0Z" fill="#000"/>
<path d="M368.1,50.8 L370.9,50.8 L369.5,53.3Z" fill="#000"/>
<path d="M372.3,59.8 L375.1,59.8 L373.7,62.3Z" fill="#000"/>
<path d="M375.5,73.0 L378.3,73.0 L376.9,75.5Z" fill="#000"/>
<path d="M379.2,73.4 L382.0,73.4 L380.6,75.9Z" fill="#000"/>
<path d="M385.5,80.6 L388.3,80.6 L386.9,83.1Z" fill="#000"/>
<path d="M348.3,36.0 L351.1,36.0 L349.7,38.5Z" fill="#aaa" stroke="#222" stroke-width="0.55"/>
<path d="M354.4,47.2 L357.2,47.2 L355.8,49.6Z" fill="#aaa" stroke="#222" stroke-width="0.55"/>
<path d="M357.9,51.4 L360.7,51.4 L359.3,53.9Z" fill="#aaa" stroke="#222" stroke-width="0.55"/>
<path d="M361.6,49.9 L364.4,49.9 L363.0,52.4Z" fill="#aaa" stroke="#222" stroke-width="0.55"/>
<path d="M365.1,42.3 L367.9,42.3 L366.5,44.8Z" fill="#aaa" stroke="#222" stroke-width="0.55"/>
<path d="M368.4,42.9 L371.2,42.9 L369.8,45.4Z" fill="#aaa" stroke="#222" stroke-width="0.55"/>
<path d="M372.3,44.9 L375.1,44.9 L373.7,47.4Z" fill="#aaa" stroke="#222" stroke-width="0.55"/>
<path d="M375.5,46.5 L378.2,46.5 L376.9,49.0Z" fill="#aaa" stroke="#222" stroke-width="0.55"/>
<path d="M379.3,48.2 L382.1,48.2 L380.7,50.6Z" fill="#aaa" stroke="#222" stroke-width="0.55"/>
<path d="M385.3,50.1 L388.1,50.1 L386.7,52.6Z" fill="#aaa" stroke="#222" stroke-width="0.55"/>
<path d="M392.1,44.6 L394.9,44.6 L393.5,47.1Z" fill="#aaa" stroke="#222" stroke-width="0.55"/>
<path d="M399.0,43.5 L401.8,43.5 L400.4,46.0Z" fill="#aaa" stroke="#222" stroke-width="0.55"/>
<path d="M406.4,43.1 L409.2,43.1 L407.8,45.6Z" fill="#aaa" stroke="#222" stroke-width="0.55"/>
<path d="M413.1,42.4 L415.9,42.4 L414.5,44.9Z" fill="#aaa" stroke="#222" stroke-width="0.55"/>
<path d="M420.2,39.7 L423.0,39.7 L421.6,42.1Z" fill="#aaa" stroke="#222" stroke-width="0.55"/>
<path d="M427.1,36.3 L429.9,36.3 L428.5,38.8Z" fill="#aaa" stroke="#222" stroke-width="0.55"/>
<path d="M434.1,38.4 L436.9,38.4 L435.5,40.9Z" fill="#aaa" stroke="#222" stroke-width="0.55"/>
<path d="M441.0,38.4 L443.8,38.4 L442.4,40.9Z" fill="#aaa" stroke="#222" stroke-width="0.55"/>
<path d="M449.0,35.8 L451.8,35.8 L450.4,38.2Z" fill="#aaa" stroke="#222" stroke-width="0.55"/>
<line x1="459.4" y1="23.1" x2="469.4" y2="23.1" stroke="#000" stroke-width="0.8"/>
<circle cx="464.4" cy="23.1" r="1.1" fill="#000"/>
<text x="471" y="25.1" font-size="5.8" text-anchor="start" fill="#000" >BM only</text>
<line x1="459.4" y1="32.5" x2="469.4" y2="32.5" stroke="#000" stroke-width="0.8"/>
<path d="M463.1,31.5 L465.7,31.5 L464.4,33.8Z" fill="#000"/>
<text x="471" y="34.5" font-size="5.8" text-anchor="start" fill="#000" >10<tspan font-size="3.9" dy="-2.1">6</tspan><tspan dy="2.1"> wt CD4</tspan><tspan font-size="3.9" dy="-2.1">+</tspan><tspan dy="2.1">CD25</tspan><tspan font-size="3.9" dy="-2.1">-</tspan></text>
<line x1="459.4" y1="40.6" x2="469.4" y2="40.6" stroke="#000" stroke-width="0.8"/>
<path d="M463.1,39.6 L465.7,39.6 L464.4,41.9Z" fill="#aaa" stroke="#000" stroke-width="0.5"/>
<text x="471" y="42.6" font-size="5.8" text-anchor="start" fill="#000" >10<tspan font-size="3.9" dy="-2.1">6</tspan><tspan dy="2.1"> tg CD4</tspan><tspan font-size="3.9" dy="-2.1">+</tspan><tspan dy="2.1">CD25</tspan><tspan font-size="3.9" dy="-2.1">-</tspan></text>
<text transform="translate(2.4,134.3)" font-size="15.8" font-weight="bold">C</text>
<text x="74.2" y="131.1" font-size="9" font-weight="bold" text-anchor="start" fill="#000" textLength="56.6" lengthAdjust="spacingAndGlyphs">CD4+FoxP3-</text>
<text x="26.6" y="150.0" font-size="8.6" text-anchor="middle" fill="#000" stroke="#000" stroke-width="0.15">CD62L</text>
<line x1="6.3" y1="194.3" x2="7.8" y2="194.3" stroke="#777" stroke-width="0.4"/>
<rect x="2.5" y="193.8" width="2.6" height="1" fill="#a0a0a0"/>
<line x1="6.3" y1="186.7" x2="7.8" y2="186.7" stroke="#777" stroke-width="0.4"/>
<rect x="2.5" y="186.2" width="2.6" height="1" fill="#a0a0a0"/>
<line x1="6.3" y1="179.1" x2="7.8" y2="179.1" stroke="#777" stroke-width="0.4"/>
<rect x="2.5" y="178.6" width="2.6" height="1" fill="#a0a0a0"/>
<line x1="6.3" y1="171.4" x2="7.8" y2="171.4" stroke="#777" stroke-width="0.4"/>
<rect x="2.5" y="170.9" width="2.6" height="1" fill="#a0a0a0"/>
<line x1="6.3" y1="163.8" x2="7.8" y2="163.8" stroke="#777" stroke-width="0.4"/>
<rect x="2.5" y="163.3" width="2.6" height="1" fill="#a0a0a0"/>
<line x1="6.3" y1="156.2" x2="7.8" y2="156.2" stroke="#777" stroke-width="0.4"/>
<rect x="2.5" y="155.7" width="2.6" height="1" fill="#a0a0a0"/>
<line x1="7.8" y1="194.3" x2="7.8" y2="195.5" stroke="#777" stroke-width="0.4"/>
<rect x="6.6" y="195.9" width="2.4" height="0.9" fill="#a8a8a8"/>
<line x1="17.2" y1="194.3" x2="17.2" y2="195.5" stroke="#777" stroke-width="0.4"/>
<rect x="16.0" y="195.9" width="2.4" height="0.9" fill="#a8a8a8"/>
<line x1="26.6" y1="194.3" x2="26.6" y2="195.5" stroke="#777" stroke-width="0.4"/>
<rect x="25.4" y="195.9" width="2.4" height="0.9" fill="#a8a8a8"/>
<line x1="36.0" y1="194.3" x2="36.0" y2="195.5" stroke="#777" stroke-width="0.4"/>
<rect x="34.8" y="195.9" width="2.4" height="0.9" fill="#a8a8a8"/>
<line x1="45.4" y1="194.3" x2="45.4" y2="195.5" stroke="#777" stroke-width="0.4"/>
<rect x="44.2" y="195.9" width="2.4" height="0.9" fill="#a8a8a8"/>
<path d="M31.50,194.30 C31.75,193.25 32.53,190.72 33.00,188.00 C33.47,185.28 33.88,180.53 34.30,178.00 C34.72,175.47 35.08,172.80 35.50,172.80 C35.92,172.80 36.38,175.47 36.80,178.00 C37.22,180.53 37.63,185.28 38.00,188.00 C38.37,190.72 38.83,193.25 39.00,194.30 L39,194.3 L31.5,194.3Z" fill="#cecece"/>
<path d="M7.80,181.80 C8.25,180.25 9.63,175.80 10.50,172.50 C11.37,169.20 12.35,164.38 13.00,162.00 C13.65,159.62 13.93,158.20 14.40,158.20 C14.87,158.20 15.28,158.70 15.80,162.00 C16.32,165.30 16.98,173.20 17.50,178.00 C18.02,182.80 18.40,188.20 18.90,190.80 C19.40,193.40 19.65,193.03 20.50,193.60 C21.35,194.17 23.42,194.10 24.00,194.20" fill="none" stroke="#666" stroke-width="0.75" stroke-dasharray="1.4,0.5"/>
<path d="M7.80,194.00 C8.33,193.80 9.97,193.10 11.00,192.80 C12.03,192.50 13.00,192.40 14.00,192.20 C15.00,192.00 16.00,191.80 17.00,191.60 C18.00,191.40 19.00,190.85 20.00,191.00 C21.00,191.15 21.83,192.10 23.00,192.50 C24.17,192.90 25.83,193.35 27.00,193.40 C28.17,193.45 29.17,194.03 30.00,192.80 C30.83,191.57 31.50,188.18 32.00,186.00 C32.50,183.82 32.58,182.70 33.00,179.70 C33.42,176.70 34.08,171.70 34.50,168.00 C34.92,164.30 35.17,157.83 35.50,157.50 C35.83,157.17 36.17,161.92 36.50,166.00 C36.83,170.08 37.10,177.58 37.50,182.00 C37.90,186.42 38.32,190.53 38.90,192.50 C39.48,194.47 39.92,193.55 41.00,193.80 C42.08,194.05 44.67,193.97 45.40,194.00" fill="none" stroke="#000" stroke-width="1.2"/>
<rect x="7.8" y="155.0" width="37.6" height="39.30000000000001" fill="none" stroke="#000" stroke-width="1"/>
<text x="76.7" y="149.6" font-size="8.6" text-anchor="middle" fill="#000" stroke="#000" stroke-width="0.15">CD69</text>
<line x1="57.3" y1="194.3" x2="58.8" y2="194.3" stroke="#777" stroke-width="0.4"/>
<rect x="53.5" y="193.8" width="2.6" height="1" fill="#a0a0a0"/>
<line x1="57.3" y1="186.7" x2="58.8" y2="186.7" stroke="#777" stroke-width="0.4"/>
<rect x="53.5" y="186.2" width="2.6" height="1" fill="#a0a0a0"/>
<line x1="57.3" y1="179.1" x2="58.8" y2="179.1" stroke="#777" stroke-width="0.4"/>
<rect x="53.5" y="178.6" width="2.6" height="1" fill="#a0a0a0"/>
<line x1="57.3" y1="171.4" x2="58.8" y2="171.4" stroke="#777" stroke-width="0.4"/>
<rect x="53.5" y="170.9" width="2.6" height="1" fill="#a0a0a0"/>
<line x1="57.3" y1="163.8" x2="58.8" y2="163.8" stroke="#777" stroke-width="0.4"/>
<rect x="53.5" y="163.3" width="2.6" height="1" fill="#a0a0a0"/>
<line x1="57.3" y1="156.2" x2="58.8" y2="156.2" stroke="#777" stroke-width="0.4"/>
<rect x="53.5" y="155.7" width="2.6" height="1" fill="#a0a0a0"/>
<line x1="58.8" y1="194.3" x2="58.8" y2="195.5" stroke="#777" stroke-width="0.4"/>
<rect x="57.6" y="195.9" width="2.4" height="0.9" fill="#a8a8a8"/>
<line x1="68.3" y1="194.3" x2="68.3" y2="195.5" stroke="#777" stroke-width="0.4"/>
<rect x="67.1" y="195.9" width="2.4" height="0.9" fill="#a8a8a8"/>
<line x1="77.8" y1="194.3" x2="77.8" y2="195.5" stroke="#777" stroke-width="0.4"/>
<rect x="76.6" y="195.9" width="2.4" height="0.9" fill="#a8a8a8"/>
<line x1="87.3" y1="194.3" x2="87.3" y2="195.5" stroke="#777" stroke-width="0.4"/>
<rect x="86.1" y="195.9" width="2.4" height="0.9" fill="#a8a8a8"/>
<line x1="96.8" y1="194.3" x2="96.8" y2="195.5" stroke="#777" stroke-width="0.4"/>
<rect x="95.6" y="195.9" width="2.4" height="0.9" fill="#a8a8a8"/>
<path d="M58.80,186.00 C59.17,185.00 60.22,182.67 61.00,180.00 C61.78,177.33 62.75,173.25 63.50,170.00 C64.25,166.75 64.95,161.67 65.50,160.50 C66.05,159.33 66.35,160.58 66.80,163.00 C67.25,165.42 67.75,171.17 68.20,175.00 C68.65,178.83 69.03,183.42 69.50,186.00 C69.97,188.58 70.25,189.50 71.00,190.50 C71.75,191.50 72.50,191.67 74.00,192.00 C75.50,192.33 78.00,192.12 80.00,192.50 C82.00,192.88 85.00,194.00 86.00,194.30 L86,194.3 L58.8,194.3Z" fill="#cecece"/>
<path d="M58.80,185.00 C59.17,183.83 60.22,180.83 61.00,178.00 C61.78,175.17 62.72,171.25 63.50,168.00 C64.28,164.75 65.12,159.50 65.70,158.50 C66.28,157.50 66.53,159.42 67.00,162.00 C67.47,164.58 68.00,170.00 68.50,174.00 C69.00,178.00 69.42,183.17 70.00,186.00 C70.58,188.83 70.33,189.83 72.00,191.00 C73.67,192.17 75.87,192.50 80.00,193.00 C84.13,193.50 94.00,193.83 96.80,194.00" fill="none" stroke="#666" stroke-width="0.75" stroke-dasharray="1.4,0.5"/>
<path d="M58.80,183.90 C59.17,182.75 60.22,179.82 61.00,177.00 C61.78,174.18 62.83,169.83 63.50,167.00 C64.17,164.17 64.58,161.58 65.00,160.00 C65.42,158.42 65.67,157.50 66.00,157.50 C66.33,157.50 66.58,157.58 67.00,160.00 C67.42,162.42 68.00,168.00 68.50,172.00 C69.00,176.00 69.58,181.22 70.00,184.00 C70.42,186.78 70.50,187.65 71.00,188.70 C71.50,189.75 71.83,190.00 73.00,190.30 C74.17,190.60 76.57,190.47 78.00,190.50 C79.43,190.53 80.60,190.25 81.60,190.50 C82.60,190.75 83.27,191.48 84.00,192.00 C84.73,192.52 83.87,193.27 86.00,193.60 C88.13,193.93 95.00,193.93 96.80,194.00" fill="none" stroke="#000" stroke-width="1.2"/>
<rect x="58.8" y="155.0" width="38.0" height="39.30000000000001" fill="none" stroke="#000" stroke-width="1"/>
<text x="128.0" y="150.0" font-size="8.6" text-anchor="middle" fill="#000" stroke="#000" stroke-width="0.15">CD44</text>
<line x1="108.7" y1="194.3" x2="110.2" y2="194.3" stroke="#777" stroke-width="0.4"/>
<rect x="104.9" y="193.8" width="2.6" height="1" fill="#a0a0a0"/>
<line x1="108.7" y1="186.7" x2="110.2" y2="186.7" stroke="#777" stroke-width="0.4"/>
<rect x="104.9" y="186.2" width="2.6" height="1" fill="#a0a0a0"/>
<line x1="108.7" y1="179.1" x2="110.2" y2="179.1" stroke="#777" stroke-width="0.4"/>
<rect x="104.9" y="178.6" width="2.6" height="1" fill="#a0a0a0"/>
<line x1="108.7" y1="171.4" x2="110.2" y2="171.4" stroke="#777" stroke-width="0.4"/>
<rect x="104.9" y="170.9" width="2.6" height="1" fill="#a0a0a0"/>
<line x1="108.7" y1="163.8" x2="110.2" y2="163.8" stroke="#777" stroke-width="0.4"/>
<rect x="104.9" y="163.3" width="2.6" height="1" fill="#a0a0a0"/>
<line x1="108.7" y1="156.2" x2="110.2" y2="156.2" stroke="#777" stroke-width="0.4"/>
<rect x="104.9" y="155.7" width="2.6" height="1" fill="#a0a0a0"/>
<line x1="110.2" y1="194.3" x2="110.2" y2="195.5" stroke="#777" stroke-width="0.4"/>
<rect x="109.0" y="195.9" width="2.4" height="0.9" fill="#a8a8a8"/>
<line x1="119.7" y1="194.3" x2="119.7" y2="195.5" stroke="#777" stroke-width="0.4"/>
<rect x="118.5" y="195.9" width="2.4" height="0.9" fill="#a8a8a8"/>
<line x1="129.1" y1="194.3" x2="129.1" y2="195.5" stroke="#777" stroke-width="0.4"/>
<rect x="127.9" y="195.9" width="2.4" height="0.9" fill="#a8a8a8"/>
<line x1="138.6" y1="194.3" x2="138.6" y2="195.5" stroke="#777" stroke-width="0.4"/>
<rect x="137.4" y="195.9" width="2.4" height="0.9" fill="#a8a8a8"/>
<line x1="148.0" y1="194.3" x2="148.0" y2="195.5" stroke="#777" stroke-width="0.4"/>
<rect x="146.8" y="195.9" width="2.4" height="0.9" fill="#a8a8a8"/>
<path d="M120.00,194.30 C120.67,193.83 122.75,192.47 124.00,191.50 C125.25,190.53 126.50,189.75 127.50,188.50 C128.50,187.25 129.25,185.92 130.00,184.00 C130.75,182.08 131.37,179.83 132.00,177.00 C132.63,174.17 133.30,169.43 133.80,167.00 C134.30,164.57 134.58,162.57 135.00,162.40 C135.42,162.23 135.83,163.90 136.30,166.00 C136.77,168.10 137.27,172.17 137.80,175.00 C138.33,177.83 138.88,180.83 139.50,183.00 C140.12,185.17 140.75,186.58 141.50,188.00 C142.25,189.42 143.08,190.45 144.00,191.50 C144.92,192.55 146.50,193.83 147.00,194.30 L147,194.3 L120,194.3Z" fill="#cecece"/>
<path d="M110.20,181.00 C110.67,179.67 112.12,176.00 113.00,173.00 C113.88,170.00 114.77,165.53 115.50,163.00 C116.23,160.47 116.85,157.80 117.40,157.80 C117.95,157.80 118.33,159.30 118.80,163.00 C119.27,166.70 119.80,175.60 120.20,180.00 C120.60,184.40 120.82,187.15 121.20,189.40 C121.58,191.65 121.70,192.70 122.50,193.50 C123.30,194.30 125.42,194.08 126.00,194.20" fill="none" stroke="#666" stroke-width="0.75" stroke-dasharray="1.4,0.5"/>
<path d="M110.20,194.00 C111.00,193.92 113.53,193.75 115.00,193.50 C116.47,193.25 117.67,192.92 119.00,192.50 C120.33,192.08 121.60,191.87 123.00,191.00 C124.40,190.13 126.32,188.63 127.40,187.30 C128.48,185.97 128.82,184.72 129.50,183.00 C130.18,181.28 130.88,179.83 131.50,177.00 C132.12,174.17 132.70,169.08 133.20,166.00 C133.70,162.92 134.15,159.83 134.50,158.50 C134.85,157.17 134.97,157.75 135.30,158.00 C135.63,158.25 136.13,158.50 136.50,160.00 C136.87,161.50 137.05,163.72 137.50,167.00 C137.95,170.28 138.53,176.62 139.20,179.70 C139.87,182.78 140.70,183.88 141.50,185.50 C142.30,187.12 143.25,188.23 144.00,189.40 C144.75,190.57 145.33,191.82 146.00,192.50 C146.67,193.18 147.67,193.33 148.00,193.50" fill="none" stroke="#000" stroke-width="1.2"/>
<rect x="110.2" y="155.0" width="37.8" height="39.30000000000001" fill="none" stroke="#000" stroke-width="1"/>
<text x="181.0" y="149.6" font-size="8.6" text-anchor="middle" fill="#000" stroke="#000" stroke-width="0.15">CD45RB</text>
<line x1="160.1" y1="194.3" x2="161.6" y2="194.3" stroke="#777" stroke-width="0.4"/>
<rect x="156.29999999999998" y="193.8" width="2.6" height="1" fill="#a0a0a0"/>
<line x1="160.1" y1="186.7" x2="161.6" y2="186.7" stroke="#777" stroke-width="0.4"/>
<rect x="156.29999999999998" y="186.2" width="2.6" height="1" fill="#a0a0a0"/>
<line x1="160.1" y1="179.1" x2="161.6" y2="179.1" stroke="#777" stroke-width="0.4"/>
<rect x="156.29999999999998" y="178.6" width="2.6" height="1" fill="#a0a0a0"/>
<line x1="160.1" y1="171.4" x2="161.6" y2="171.4" stroke="#777" stroke-width="0.4"/>
<rect x="156.29999999999998" y="170.9" width="2.6" height="1" fill="#a0a0a0"/>
<line x1="160.1" y1="163.8" x2="161.6" y2="163.8" stroke="#777" stroke-width="0.4"/>
<rect x="156.29999999999998" y="163.3" width="2.6" height="1" fill="#a0a0a0"/>
<line x1="160.1" y1="156.2" x2="161.6" y2="156.2" stroke="#777" stroke-width="0.4"/>
<rect x="156.29999999999998" y="155.7" width="2.6" height="1" fill="#a0a0a0"/>
<line x1="161.6" y1="194.3" x2="161.6" y2="195.5" stroke="#777" stroke-width="0.4"/>
<rect x="160.4" y="195.9" width="2.4" height="0.9" fill="#a8a8a8"/>
<line x1="171.1" y1="194.3" x2="171.1" y2="195.5" stroke="#777" stroke-width="0.4"/>
<rect x="169.9" y="195.9" width="2.4" height="0.9" fill="#a8a8a8"/>
<line x1="180.6" y1="194.3" x2="180.6" y2="195.5" stroke="#777" stroke-width="0.4"/>
<rect x="179.4" y="195.9" width="2.4" height="0.9" fill="#a8a8a8"/>
<line x1="190.1" y1="194.3" x2="190.1" y2="195.5" stroke="#777" stroke-width="0.4"/>
<rect x="188.9" y="195.9" width="2.4" height="0.9" fill="#a8a8a8"/>
<line x1="199.6" y1="194.3" x2="199.6" y2="195.5" stroke="#777" stroke-width="0.4"/>
<rect x="198.4" y="195.9" width="2.4" height="0.9" fill="#a8a8a8"/>
<path d="M174.00,194.30 C174.50,193.92 176.03,192.72 177.00,192.00 C177.97,191.28 178.88,191.00 179.80,190.00 C180.72,189.00 181.58,187.67 182.50,186.00 C183.42,184.33 184.47,182.33 185.30,180.00 C186.13,177.67 186.80,174.50 187.50,172.00 C188.20,169.50 189.02,166.37 189.50,165.00 C189.98,163.63 190.07,163.47 190.40,163.80 C190.73,164.13 191.07,164.97 191.50,167.00 C191.93,169.03 192.50,172.83 193.00,176.00 C193.50,179.17 194.08,183.33 194.50,186.00 C194.92,188.67 195.17,190.62 195.50,192.00 C195.83,193.38 196.33,193.92 196.50,194.30 L196.5,194.3 L174,194.3Z" fill="#cecece"/>
<path d="M161.60,180.40 C162.00,179.00 163.10,175.23 164.00,172.00 C164.90,168.77 166.17,163.37 167.00,161.00 C167.83,158.63 168.42,157.63 169.00,157.80 C169.58,157.97 170.03,158.30 170.50,162.00 C170.97,165.70 171.40,174.83 171.80,180.00 C172.20,185.17 172.20,190.63 172.90,193.00 C173.60,195.37 175.48,194.00 176.00,194.20" fill="none" stroke="#666" stroke-width="0.75" stroke-dasharray="1.4,0.5"/>
<path d="M161.60,194.00 C163.00,194.00 167.90,194.08 170.00,194.00 C172.10,193.92 173.03,194.00 174.20,193.50 C175.37,193.00 176.07,191.80 177.00,191.00 C177.93,190.20 178.88,189.87 179.80,188.70 C180.72,187.53 181.58,185.95 182.50,184.00 C183.42,182.05 184.47,179.67 185.30,177.00 C186.13,174.33 186.80,171.00 187.50,168.00 C188.20,165.00 188.98,160.75 189.50,159.00 C190.02,157.25 190.22,157.17 190.60,157.50 C190.98,157.83 191.30,158.22 191.80,161.00 C192.30,163.78 193.15,170.53 193.60,174.20 C194.05,177.87 194.22,180.47 194.50,183.00 C194.78,185.53 194.97,187.68 195.30,189.40 C195.63,191.12 195.78,192.53 196.50,193.30 C197.22,194.07 199.08,193.88 199.60,194.00" fill="none" stroke="#000" stroke-width="1.2"/>
<rect x="161.6" y="155.0" width="38.0" height="39.30000000000001" fill="none" stroke="#000" stroke-width="1"/>
<text x="23.0" y="212.6" font-size="8.6" text-anchor="middle" fill="#000" stroke="#000" stroke-width="0.15">CD25</text>
<line x1="6.3" y1="257.5" x2="7.8" y2="257.5" stroke="#777" stroke-width="0.4"/>
<rect x="2.5" y="257.0" width="2.6" height="1" fill="#a0a0a0"/>
<line x1="6.3" y1="249.9" x2="7.8" y2="249.9" stroke="#777" stroke-width="0.4"/>
<rect x="2.5" y="249.4" width="2.6" height="1" fill="#a0a0a0"/>
<line x1="6.3" y1="242.2" x2="7.8" y2="242.2" stroke="#777" stroke-width="0.4"/>
<rect x="2.5" y="241.7" width="2.6" height="1" fill="#a0a0a0"/>
<line x1="6.3" y1="234.6" x2="7.8" y2="234.6" stroke="#777" stroke-width="0.4"/>
<rect x="2.5" y="234.1" width="2.6" height="1" fill="#a0a0a0"/>
<line x1="6.3" y1="226.9" x2="7.8" y2="226.9" stroke="#777" stroke-width="0.4"/>
<rect x="2.5" y="226.4" width="2.6" height="1" fill="#a0a0a0"/>
<line x1="6.3" y1="219.3" x2="7.8" y2="219.3" stroke="#777" stroke-width="0.4"/>
<rect x="2.5" y="218.8" width="2.6" height="1" fill="#a0a0a0"/>
<line x1="7.8" y1="257.5" x2="7.8" y2="258.7" stroke="#777" stroke-width="0.4"/>
<rect x="6.6" y="259.1" width="2.4" height="0.9" fill="#a8a8a8"/>
<line x1="17.2" y1="257.5" x2="17.2" y2="258.7" stroke="#777" stroke-width="0.4"/>
<rect x="16.0" y="259.1" width="2.4" height="0.9" fill="#a8a8a8"/>
<line x1="26.6" y1="257.5" x2="26.6" y2="258.7" stroke="#777" stroke-width="0.4"/>
<rect x="25.4" y="259.1" width="2.4" height="0.9" fill="#a8a8a8"/>
<line x1="36.0" y1="257.5" x2="36.0" y2="258.7" stroke="#777" stroke-width="0.4"/>
<rect x="34.8" y="259.1" width="2.4" height="0.9" fill="#a8a8a8"/>
<line x1="45.4" y1="257.5" x2="45.4" y2="258.7" stroke="#777" stroke-width="0.4"/>
<rect x="44.2" y="259.1" width="2.4" height="0.9" fill="#a8a8a8"/>
<path d="M7.80,250.00 C8.17,248.67 9.22,245.17 10.00,242.00 C10.78,238.83 11.75,234.25 12.50,231.00 C13.25,227.75 13.95,223.17 14.50,222.50 C15.05,221.83 15.35,224.42 15.80,227.00 C16.25,229.58 16.75,234.17 17.20,238.00 C17.65,241.83 17.95,247.25 18.50,250.00 C19.05,252.75 19.75,253.42 20.50,254.50 C21.25,255.58 22.08,256.00 23.00,256.50 C23.92,257.00 25.50,257.33 26.00,257.50 L26,257.5 L7.8,257.5Z" fill="#cecece"/>
<path d="M7.80,247.00 C8.17,245.50 9.22,241.17 10.00,238.00 C10.78,234.83 11.75,230.75 12.50,228.00 C13.25,225.25 13.92,221.83 14.50,221.50 C15.08,221.17 15.45,223.25 16.00,226.00 C16.55,228.75 17.10,233.83 17.80,238.00 C18.50,242.17 19.42,248.25 20.20,251.00 C20.98,253.75 21.70,253.67 22.50,254.50 C23.30,255.33 24.08,255.58 25.00,256.00 C25.92,256.42 24.60,256.78 28.00,257.00 C31.40,257.22 42.50,257.25 45.40,257.30" fill="none" stroke="#666" stroke-width="0.75" stroke-dasharray="1.4,0.5"/>
<path d="M7.80,248.20 C8.17,246.75 9.22,242.70 10.00,239.50 C10.78,236.30 11.80,231.92 12.50,229.00 C13.20,226.08 13.78,223.42 14.20,222.00 C14.62,220.58 14.70,220.17 15.00,220.50 C15.30,220.83 15.58,221.45 16.00,224.00 C16.42,226.55 17.02,231.30 17.50,235.80 C17.98,240.30 18.40,247.88 18.90,251.00 C19.40,254.12 19.90,253.75 20.50,254.50 C21.10,255.25 21.85,255.20 22.50,255.50 C23.15,255.80 23.48,256.05 24.40,256.30 C25.32,256.55 24.50,256.83 28.00,257.00 C31.50,257.17 42.50,257.25 45.40,257.30" fill="none" stroke="#000" stroke-width="1.2"/>
<rect x="7.8" y="218.1" width="37.6" height="39.400000000000006" fill="none" stroke="#000" stroke-width="1"/>
<text x="77.3" y="212.6" font-size="8.6" text-anchor="middle" fill="#000" stroke="#000" stroke-width="0.15">CD122</text>
<line x1="57.3" y1="257.5" x2="58.8" y2="257.5" stroke="#777" stroke-width="0.4"/>
<rect x="53.5" y="257.0" width="2.6" height="1" fill="#a0a0a0"/>
<line x1="57.3" y1="249.9" x2="58.8" y2="249.9" stroke="#777" stroke-width="0.4"/>
<rect x="53.5" y="249.4" width="2.6" height="1" fill="#a0a0a0"/>
<line x1="57.3" y1="242.2" x2="58.8" y2="242.2" stroke="#777" stroke-width="0.4"/>
<rect x="53.5" y="241.7" width="2.6" height="1" fill="#a0a0a0"/>
<line x1="57.3" y1="234.6" x2="58.8" y2="234.6" stroke="#777" stroke-width="0.4"/>
<rect x="53.5" y="234.1" width="2.6" height="1" fill="#a0a0a0"/>
<line x1="57.3" y1="226.9" x2="58.8" y2="226.9" stroke="#777" stroke-width="0.4"/>
<rect x="53.5" y="226.4" width="2.6" height="1" fill="#a0a0a0"/>
<line x1="57.3" y1="219.3" x2="58.8" y2="219.3" stroke="#777" stroke-width="0.4"/>
<rect x="53.5" y="218.8" width="2.6" height="1" fill="#a0a0a0"/>
<line x1="58.8" y1="257.5" x2="58.8" y2="258.7" stroke="#777" stroke-width="0.4"/>
<rect x="57.6" y="259.1" width="2.4" height="0.9" fill="#a8a8a8"/>
<line x1="68.3" y1="257.5" x2="68.3" y2="258.7" stroke="#777" stroke-width="0.4"/>
<rect x="67.1" y="259.1" width="2.4" height="0.9" fill="#a8a8a8"/>
<line x1="77.8" y1="257.5" x2="77.8" y2="258.7" stroke="#777" stroke-width="0.4"/>
<rect x="76.6" y="259.1" width="2.4" height="0.9" fill="#a8a8a8"/>
<line x1="87.3" y1="257.5" x2="87.3" y2="258.7" stroke="#777" stroke-width="0.4"/>
<rect x="86.1" y="259.1" width="2.4" height="0.9" fill="#a8a8a8"/>
<line x1="96.8" y1="257.5" x2="96.8" y2="258.7" stroke="#777" stroke-width="0.4"/>
<rect x="95.6" y="259.1" width="2.4" height="0.9" fill="#a8a8a8"/>
<path d="M58.80,246.00 C59.17,244.67 60.22,240.67 61.00,238.00 C61.78,235.33 62.67,232.58 63.50,230.00 C64.33,227.42 65.37,223.00 66.00,222.50 C66.63,222.00 66.87,224.08 67.30,227.00 C67.73,229.92 68.15,236.00 68.60,240.00 C69.05,244.00 69.43,248.58 70.00,251.00 C70.57,253.42 71.00,253.42 72.00,254.50 C73.00,255.58 75.33,257.00 76.00,257.50 L76,257.5 L58.8,257.5Z" fill="#cecece"/>
<path d="M58.80,244.00 C59.17,242.67 60.22,238.67 61.00,236.00 C61.78,233.33 62.67,230.42 63.50,228.00 C64.33,225.58 65.33,221.83 66.00,221.50 C66.67,221.17 67.00,222.92 67.50,226.00 C68.00,229.08 68.50,235.92 69.00,240.00 C69.50,244.08 69.83,248.08 70.50,250.50 C71.17,252.92 71.92,253.50 73.00,254.50 C74.08,255.50 73.03,256.03 77.00,256.50 C80.97,256.97 93.50,257.17 96.80,257.30" fill="none" stroke="#666" stroke-width="0.75" stroke-dasharray="1.4,0.5"/>
<path d="M58.80,244.80 C59.17,243.50 60.22,239.63 61.00,237.00 C61.78,234.37 62.73,231.50 63.50,229.00 C64.27,226.50 65.12,223.42 65.60,222.00 C66.08,220.58 66.12,220.17 66.40,220.50 C66.68,220.83 66.93,221.08 67.30,224.00 C67.67,226.92 68.17,233.62 68.60,238.00 C69.03,242.38 69.42,247.72 69.90,250.30 C70.38,252.88 70.82,252.63 71.50,253.50 C72.18,254.37 73.12,254.95 74.00,255.50 C74.88,256.05 73.00,256.50 76.80,256.80 C80.60,257.10 93.47,257.22 96.80,257.30" fill="none" stroke="#000" stroke-width="1.2"/>
<rect x="58.8" y="218.1" width="38.0" height="39.400000000000006" fill="none" stroke="#000" stroke-width="1"/>
<text x="128.8" y="212.6" font-size="8.6" text-anchor="middle" fill="#000" stroke="#000" stroke-width="0.15">CD132</text>
<line x1="108.7" y1="257.5" x2="110.2" y2="257.5" stroke="#777" stroke-width="0.4"/>
<rect x="104.9" y="257.0" width="2.6" height="1" fill="#a0a0a0"/>
<line x1="108.7" y1="249.9" x2="110.2" y2="249.9" stroke="#777" stroke-width="0.4"/>
<rect x="104.9" y="249.4" width="2.6" height="1" fill="#a0a0a0"/>
<line x1="108.7" y1="242.2" x2="110.2" y2="242.2" stroke="#777" stroke-width="0.4"/>
<rect x="104.9" y="241.7" width="2.6" height="1" fill="#a0a0a0"/>
<line x1="108.7" y1="234.6" x2="110.2" y2="234.6" stroke="#777" stroke-width="0.4"/>
<rect x="104.9" y="234.1" width="2.6" height="1" fill="#a0a0a0"/>
<line x1="108.7" y1="226.9" x2="110.2" y2="226.9" stroke="#777" stroke-width="0.4"/>
<rect x="104.9" y="226.4" width="2.6" height="1" fill="#a0a0a0"/>
<line x1="108.7" y1="219.3" x2="110.2" y2="219.3" stroke="#777" stroke-width="0.4"/>
<rect x="104.9" y="218.8" width="2.6" height="1" fill="#a0a0a0"/>
<line x1="110.2" y1="257.5" x2="110.2" y2="258.7" stroke="#777" stroke-width="0.4"/>
<rect x="109.0" y="259.1" width="2.4" height="0.9" fill="#a8a8a8"/>
<line x1="119.7" y1="257.5" x2="119.7" y2="258.7" stroke="#777" stroke-width="0.4"/>
<rect x="118.5" y="259.1" width="2.4" height="0.9" fill="#a8a8a8"/>
<line x1="129.1" y1="257.5" x2="129.1" y2="258.7" stroke="#777" stroke-width="0.4"/>
<rect x="127.9" y="259.1" width="2.4" height="0.9" fill="#a8a8a8"/>
<line x1="138.6" y1="257.5" x2="138.6" y2="258.7" stroke="#777" stroke-width="0.4"/>
<rect x="137.4" y="259.1" width="2.4" height="0.9" fill="#a8a8a8"/>
<line x1="148.0" y1="257.5" x2="148.0" y2="258.7" stroke="#777" stroke-width="0.4"/>
<rect x="146.8" y="259.1" width="2.4" height="0.9" fill="#a8a8a8"/>
<path d="M118.50,257.50 C118.75,256.58 119.50,254.58 120.00,252.00 C120.50,249.42 121.00,245.17 121.50,242.00 C122.00,238.83 122.58,235.18 123.00,233.00 C123.42,230.82 123.63,228.90 124.00,228.90 C124.37,228.90 124.78,230.48 125.20,233.00 C125.62,235.52 126.03,240.67 126.50,244.00 C126.97,247.33 127.42,250.75 128.00,253.00 C128.58,255.25 129.67,256.75 130.00,257.50 L130,257.5 L118.5,257.5Z" fill="#cecece"/>
<path d="M110.20,244.00 C110.58,242.67 111.62,239.00 112.50,236.00 C113.38,233.00 114.68,228.47 115.50,226.00 C116.32,223.53 116.85,220.87 117.40,221.20 C117.95,221.53 118.33,224.20 118.80,228.00 C119.27,231.80 119.75,239.75 120.20,244.00 C120.65,248.25 121.03,251.33 121.50,253.50 C121.97,255.67 122.75,256.42 123.00,257.00" fill="none" stroke="#666" stroke-width="0.75" stroke-dasharray="1.4,0.5"/>
<path d="M110.20,257.20 C111.33,257.17 115.57,257.28 117.00,257.00 C118.43,256.72 118.30,256.67 118.80,255.50 C119.30,254.33 119.65,252.13 120.00,250.00 C120.35,247.87 120.48,246.03 120.90,242.70 C121.32,239.37 122.05,233.45 122.50,230.00 C122.95,226.55 123.30,223.58 123.60,222.00 C123.90,220.42 124.07,220.50 124.30,220.50 C124.53,220.50 124.65,218.30 125.00,222.00 C125.35,225.70 125.98,237.70 126.40,242.70 C126.82,247.70 127.15,249.78 127.50,252.00 C127.85,254.22 127.92,255.13 128.50,256.00 C129.08,256.87 127.75,256.98 131.00,257.20 C134.25,257.42 145.17,257.28 148.00,257.30" fill="none" stroke="#000" stroke-width="1.2"/>
<rect x="110.2" y="218.1" width="37.8" height="39.400000000000006" fill="none" stroke="#000" stroke-width="1"/>
<text x="23.7" y="275.4" font-size="8.6" text-anchor="middle" fill="#000" stroke="#000" stroke-width="0.15">OX40</text>
<line x1="6.3" y1="319.5" x2="7.8" y2="319.5" stroke="#777" stroke-width="0.4"/>
<rect x="2.5" y="319.0" width="2.6" height="1" fill="#a0a0a0"/>
<line x1="6.3" y1="312.0" x2="7.8" y2="312.0" stroke="#777" stroke-width="0.4"/>
<rect x="2.5" y="311.5" width="2.6" height="1" fill="#a0a0a0"/>
<line x1="6.3" y1="304.5" x2="7.8" y2="304.5" stroke="#777" stroke-width="0.4"/>
<rect x="2.5" y="304.0" width="2.6" height="1" fill="#a0a0a0"/>
<line x1="6.3" y1="297.0" x2="7.8" y2="297.0" stroke="#777" stroke-width="0.4"/>
<rect x="2.5" y="296.5" width="2.6" height="1" fill="#a0a0a0"/>
<line x1="6.3" y1="289.5" x2="7.8" y2="289.5" stroke="#777" stroke-width="0.4"/>
<rect x="2.5" y="289.0" width="2.6" height="1" fill="#a0a0a0"/>
<line x1="6.3" y1="282.0" x2="7.8" y2="282.0" stroke="#777" stroke-width="0.4"/>
<rect x="2.5" y="281.5" width="2.6" height="1" fill="#a0a0a0"/>
<line x1="7.8" y1="319.5" x2="7.8" y2="320.7" stroke="#777" stroke-width="0.4"/>
<rect x="6.6" y="321.1" width="2.4" height="0.9" fill="#a8a8a8"/>
<line x1="17.2" y1="319.5" x2="17.2" y2="320.7" stroke="#777" stroke-width="0.4"/>
<rect x="16.0" y="321.1" width="2.4" height="0.9" fill="#a8a8a8"/>
<line x1="26.6" y1="319.5" x2="26.6" y2="320.7" stroke="#777" stroke-width="0.4"/>
<rect x="25.4" y="321.1" width="2.4" height="0.9" fill="#a8a8a8"/>
<line x1="36.0" y1="319.5" x2="36.0" y2="320.7" stroke="#777" stroke-width="0.4"/>
<rect x="34.8" y="321.1" width="2.4" height="0.9" fill="#a8a8a8"/>
<line x1="45.4" y1="319.5" x2="45.4" y2="320.7" stroke="#777" stroke-width="0.4"/>
<rect x="44.2" y="321.1" width="2.4" height="0.9" fill="#a8a8a8"/>
<path d="M7.80,313.00 C8.20,311.67 9.47,308.00 10.20,305.00 C10.93,302.00 11.52,298.17 12.20,295.00 C12.88,291.83 13.73,287.00 14.30,286.00 C14.87,285.00 15.12,286.33 15.60,289.00 C16.08,291.67 16.63,297.92 17.20,302.00 C17.77,306.08 18.28,310.92 19.00,313.50 C19.72,316.08 20.67,316.50 21.50,317.50 C22.33,318.50 23.58,319.17 24.00,319.50 L24,319.5 L7.8,319.5Z" fill="#cecece"/>
<path d="M7.80,303.00 C8.03,303.50 8.75,306.17 9.20,306.00 C9.65,305.83 9.98,304.17 10.50,302.00 C11.02,299.83 11.67,295.80 12.30,293.00 C12.93,290.20 13.75,286.20 14.30,285.20 C14.85,284.20 15.10,284.70 15.60,287.00 C16.10,289.30 16.68,294.92 17.30,299.00 C17.92,303.08 18.60,308.67 19.30,311.50 C20.00,314.33 20.55,314.85 21.50,316.00 C22.45,317.15 21.02,317.87 25.00,318.40 C28.98,318.93 42.00,319.07 45.40,319.20" fill="none" stroke="#666" stroke-width="0.75" stroke-dasharray="1.4,0.5"/>
<path d="M7.80,311.00 C7.92,310.78 8.07,311.18 8.50,309.70 C8.93,308.22 9.80,304.95 10.40,302.10 C11.00,299.25 11.57,295.23 12.10,292.60 C12.63,289.97 13.10,287.87 13.60,286.30 C14.10,284.73 14.58,282.67 15.10,283.20 C15.62,283.73 16.22,286.35 16.70,289.50 C17.18,292.65 17.57,298.42 18.00,302.10 C18.43,305.78 18.77,309.28 19.30,311.60 C19.83,313.92 20.25,314.85 21.20,316.00 C22.15,317.15 20.97,317.97 25.00,318.50 C29.03,319.03 42.00,319.08 45.40,319.20" fill="none" stroke="#000" stroke-width="1.2"/>
<rect x="7.8" y="280.8" width="37.6" height="38.69999999999999" fill="none" stroke="#000" stroke-width="1"/>
<text x="78.6" y="275.2" font-size="8.6" text-anchor="middle" fill="#000" stroke="#000" stroke-width="0.15">CTLA-4</text>
<line x1="57.3" y1="319.5" x2="58.8" y2="319.5" stroke="#777" stroke-width="0.4"/>
<rect x="53.5" y="319.0" width="2.6" height="1" fill="#a0a0a0"/>
<line x1="57.3" y1="312.0" x2="58.8" y2="312.0" stroke="#777" stroke-width="0.4"/>
<rect x="53.5" y="311.5" width="2.6" height="1" fill="#a0a0a0"/>
<line x1="57.3" y1="304.5" x2="58.8" y2="304.5" stroke="#777" stroke-width="0.4"/>
<rect x="53.5" y="304.0" width="2.6" height="1" fill="#a0a0a0"/>
<line x1="57.3" y1="297.0" x2="58.8" y2="297.0" stroke="#777" stroke-width="0.4"/>
<rect x="53.5" y="296.5" width="2.6" height="1" fill="#a0a0a0"/>
<line x1="57.3" y1="289.5" x2="58.8" y2="289.5" stroke="#777" stroke-width="0.4"/>
<rect x="53.5" y="289.0" width="2.6" height="1" fill="#a0a0a0"/>
<line x1="57.3" y1="282.0" x2="58.8" y2="282.0" stroke="#777" stroke-width="0.4"/>
<rect x="53.5" y="281.5" width="2.6" height="1" fill="#a0a0a0"/>
<line x1="58.8" y1="319.5" x2="58.8" y2="320.7" stroke="#777" stroke-width="0.4"/>
<rect x="57.6" y="321.1" width="2.4" height="0.9" fill="#a8a8a8"/>
<line x1="68.3" y1="319.5" x2="68.3" y2="320.7" stroke="#777" stroke-width="0.4"/>
<rect x="67.1" y="321.1" width="2.4" height="0.9" fill="#a8a8a8"/>
<line x1="77.8" y1="319.5" x2="77.8" y2="320.7" stroke="#777" stroke-width="0.4"/>
<rect x="76.6" y="321.1" width="2.4" height="0.9" fill="#a8a8a8"/>
<line x1="87.3" y1="319.5" x2="87.3" y2="320.7" stroke="#777" stroke-width="0.4"/>
<rect x="86.1" y="321.1" width="2.4" height="0.9" fill="#a8a8a8"/>
<line x1="96.8" y1="319.5" x2="96.8" y2="320.7" stroke="#777" stroke-width="0.4"/>
<rect x="95.6" y="321.1" width="2.4" height="0.9" fill="#a8a8a8"/>
<path d="M58.80,313.00 C59.17,312.17 60.22,310.83 61.00,308.00 C61.78,305.17 62.70,299.67 63.50,296.00 C64.30,292.33 65.18,286.83 65.80,286.00 C66.42,285.17 66.75,288.17 67.20,291.00 C67.65,293.83 68.03,299.25 68.50,303.00 C68.97,306.75 69.42,311.25 70.00,313.50 C70.58,315.75 71.00,315.50 72.00,316.50 C73.00,317.50 75.33,319.00 76.00,319.50 L76,319.5 L58.8,319.5Z" fill="#cecece"/>
<path d="M58.80,309.00 C59.17,308.33 60.22,307.50 61.00,305.00 C61.78,302.50 62.70,297.50 63.50,294.00 C64.30,290.50 65.17,285.00 65.80,284.00 C66.43,283.00 66.83,285.33 67.30,288.00 C67.77,290.67 68.15,296.17 68.60,300.00 C69.05,303.83 69.43,308.42 70.00,311.00 C70.57,313.58 71.00,314.42 72.00,315.50 C73.00,316.58 74.50,316.95 76.00,317.50 C77.50,318.05 77.53,318.52 81.00,318.80 C84.47,319.08 94.17,319.13 96.80,319.20" fill="none" stroke="#666" stroke-width="0.75" stroke-dasharray="1.4,0.5"/>
<path d="M58.80,311.00 C59.17,310.17 60.22,308.67 61.00,306.00 C61.78,303.33 62.75,298.50 63.50,295.00 C64.25,291.50 65.02,287.03 65.50,285.00 C65.98,282.97 66.08,282.30 66.40,282.80 C66.72,283.30 67.03,285.13 67.40,288.00 C67.77,290.87 68.18,296.07 68.60,300.00 C69.02,303.93 69.42,309.18 69.90,311.60 C70.38,314.02 70.65,313.68 71.50,314.50 C72.35,315.32 73.43,315.85 75.00,316.50 C76.57,317.15 77.27,317.95 80.90,318.40 C84.53,318.85 94.15,319.07 96.80,319.20" fill="none" stroke="#000" stroke-width="1.2"/>
<rect x="58.8" y="280.8" width="38.0" height="38.69999999999999" fill="none" stroke="#000" stroke-width="1"/>
<text x="129.0" y="275.4" font-size="8.6" text-anchor="middle" fill="#000" stroke="#000" stroke-width="0.15">GITR</text>
<line x1="108.7" y1="319.5" x2="110.2" y2="319.5" stroke="#777" stroke-width="0.4"/>
<rect x="104.9" y="319.0" width="2.6" height="1" fill="#a0a0a0"/>
<line x1="108.7" y1="312.0" x2="110.2" y2="312.0" stroke="#777" stroke-width="0.4"/>
<rect x="104.9" y="311.5" width="2.6" height="1" fill="#a0a0a0"/>
<line x1="108.7" y1="304.5" x2="110.2" y2="304.5" stroke="#777" stroke-width="0.4"/>
<rect x="104.9" y="304.0" width="2.6" height="1" fill="#a0a0a0"/>
<line x1="108.7" y1="297.0" x2="110.2" y2="297.0" stroke="#777" stroke-width="0.4"/>
<rect x="104.9" y="296.5" width="2.6" height="1" fill="#a0a0a0"/>
<line x1="108.7" y1="289.5" x2="110.2" y2="289.5" stroke="#777" stroke-width="0.4"/>
<rect x="104.9" y="289.0" width="2.6" height="1" fill="#a0a0a0"/>
<line x1="108.7" y1="282.0" x2="110.2" y2="282.0" stroke="#777" stroke-width="0.4"/>
<rect x="104.9" y="281.5" width="2.6" height="1" fill="#a0a0a0"/>
<line x1="110.2" y1="319.5" x2="110.2" y2="320.7" stroke="#777" stroke-width="0.4"/>
<rect x="109.0" y="321.1" width="2.4" height="0.9" fill="#a8a8a8"/>
<line x1="119.7" y1="319.5" x2="119.7" y2="320.7" stroke="#777" stroke-width="0.4"/>
<rect x="118.5" y="321.1" width="2.4" height="0.9" fill="#a8a8a8"/>
<line x1="129.1" y1="319.5" x2="129.1" y2="320.7" stroke="#777" stroke-width="0.4"/>
<rect x="127.9" y="321.1" width="2.4" height="0.9" fill="#a8a8a8"/>
<line x1="138.6" y1="319.5" x2="138.6" y2="320.7" stroke="#777" stroke-width="0.4"/>
<rect x="137.4" y="321.1" width="2.4" height="0.9" fill="#a8a8a8"/>
<line x1="148.0" y1="319.5" x2="148.0" y2="320.7" stroke="#777" stroke-width="0.4"/>
<rect x="146.8" y="321.1" width="2.4" height="0.9" fill="#a8a8a8"/>
<path d="M115.00,319.50 C115.42,318.42 116.75,315.92 117.50,313.00 C118.25,310.08 118.95,305.50 119.50,302.00 C120.05,298.50 120.45,294.50 120.80,292.00 C121.15,289.50 121.30,287.17 121.60,287.00 C121.90,286.83 122.20,288.50 122.60,291.00 C123.00,293.50 123.52,298.33 124.00,302.00 C124.48,305.67 124.92,310.08 125.50,313.00 C126.08,315.92 127.17,318.42 127.50,319.50 L127.5,319.5 L115,319.5Z" fill="#cecece"/>
<path d="M110.20,306.00 C110.58,304.67 111.62,301.00 112.50,298.00 C113.38,295.00 114.68,290.47 115.50,288.00 C116.32,285.53 116.85,282.87 117.40,283.20 C117.95,283.53 118.33,285.72 118.80,290.00 C119.27,294.28 119.75,304.57 120.20,308.90 C120.65,313.23 121.03,314.35 121.50,316.00 C121.97,317.65 122.75,318.33 123.00,318.80" fill="none" stroke="#666" stroke-width="0.75" stroke-dasharray="1.4,0.5"/>
<path d="M110.20,319.20 C110.70,319.13 112.23,319.42 113.20,318.80 C114.17,318.18 115.18,317.38 116.00,315.50 C116.82,313.62 117.40,311.15 118.10,307.50 C118.80,303.85 119.72,297.35 120.20,293.60 C120.68,289.85 120.78,286.80 121.00,285.00 C121.22,283.20 121.28,282.80 121.50,282.80 C121.72,282.80 121.83,281.35 122.30,285.00 C122.77,288.65 123.77,300.12 124.30,304.70 C124.83,309.28 125.15,310.53 125.50,312.50 C125.85,314.47 125.90,315.50 126.40,316.50 C126.90,317.50 127.73,318.05 128.50,318.50 C129.27,318.95 127.75,319.08 131.00,319.20 C134.25,319.32 145.17,319.20 148.00,319.20" fill="none" stroke="#000" stroke-width="1.2"/>
<rect x="110.2" y="280.8" width="37.8" height="38.69999999999999" fill="none" stroke="#000" stroke-width="1"/>
<text x="179.4" y="275.4" font-size="8.6" text-anchor="middle" fill="#000" stroke="#000" stroke-width="0.15">CD103</text>
<line x1="160.1" y1="319.5" x2="161.6" y2="319.5" stroke="#777" stroke-width="0.4"/>
<rect x="156.29999999999998" y="319.0" width="2.6" height="1" fill="#a0a0a0"/>
<line x1="160.1" y1="312.0" x2="161.6" y2="312.0" stroke="#777" stroke-width="0.4"/>
<rect x="156.29999999999998" y="311.5" width="2.6" height="1" fill="#a0a0a0"/>
<line x1="160.1" y1="304.5" x2="161.6" y2="304.5" stroke="#777" stroke-width="0.4"/>
<rect x="156.29999999999998" y="304.0" width="2.6" height="1" fill="#a0a0a0"/>
<line x1="160.1" y1="297.0" x2="161.6" y2="297.0" stroke="#777" stroke-width="0.4"/>
<rect x="156.29999999999998" y="296.5" width="2.6" height="1" fill="#a0a0a0"/>
<line x1="160.1" y1="289.5" x2="161.6" y2="289.5" stroke="#777" stroke-width="0.4"/>
<rect x="156.29999999999998" y="289.0" width="2.6" height="1" fill="#a0a0a0"/>
<line x1="160.1" y1="282.0" x2="161.6" y2="282.0" stroke="#777" stroke-width="0.4"/>
<rect x="156.29999999999998" y="281.5" width="2.6" height="1" fill="#a0a0a0"/>
<line x1="161.6" y1="319.5" x2="161.6" y2="320.7" stroke="#777" stroke-width="0.4"/>
<rect x="160.4" y="321.1" width="2.4" height="0.9" fill="#a8a8a8"/>
<line x1="171.1" y1="319.5" x2="171.1" y2="320.7" stroke="#777" stroke-width="0.4"/>
<rect x="169.9" y="321.1" width="2.4" height="0.9" fill="#a8a8a8"/>
<line x1="180.6" y1="319.5" x2="180.6" y2="320.7" stroke="#777" stroke-width="0.4"/>
<rect x="179.4" y="321.1" width="2.4" height="0.9" fill="#a8a8a8"/>
<line x1="190.1" y1="319.5" x2="190.1" y2="320.7" stroke="#777" stroke-width="0.4"/>
<rect x="188.9" y="321.1" width="2.4" height="0.9" fill="#a8a8a8"/>
<line x1="199.6" y1="319.5" x2="199.6" y2="320.7" stroke="#777" stroke-width="0.4"/>
<rect x="198.4" y="321.1" width="2.4" height="0.9" fill="#a8a8a8"/>
<path d="M161.60,310.00 C162.00,308.67 163.18,305.00 164.00,302.00 C164.82,299.00 165.70,294.92 166.50,292.00 C167.30,289.08 168.22,284.83 168.80,284.50 C169.38,284.17 169.55,286.42 170.00,290.00 C170.45,293.58 171.00,301.67 171.50,306.00 C172.00,310.33 172.42,313.75 173.00,316.00 C173.58,318.25 174.67,318.92 175.00,319.50 L175,319.5 L161.6,319.5Z" fill="#cecece"/>
<path d="M161.60,307.50 C162.00,306.25 163.18,302.92 164.00,300.00 C164.82,297.08 165.70,292.87 166.50,290.00 C167.30,287.13 168.22,283.13 168.80,282.80 C169.38,282.47 169.55,284.47 170.00,288.00 C170.45,291.53 171.00,299.42 171.50,304.00 C172.00,308.58 172.42,313.17 173.00,315.50 C173.58,317.83 170.57,317.38 175.00,318.00 C179.43,318.62 195.50,319.00 199.60,319.20" fill="none" stroke="#666" stroke-width="0.75" stroke-dasharray="1.4,0.5"/>
<path d="M161.60,308.20 C162.00,306.92 163.18,303.37 164.00,300.50 C164.82,297.63 165.78,293.75 166.50,291.00 C167.22,288.25 167.88,285.42 168.30,284.00 C168.72,282.58 168.75,282.17 169.00,282.50 C169.25,282.83 169.38,282.30 169.80,286.00 C170.22,289.70 170.98,299.73 171.50,304.70 C172.02,309.67 172.40,313.62 172.90,315.80 C173.40,317.98 173.93,317.33 174.50,317.80 C175.07,318.27 172.12,318.37 176.30,318.60 C180.48,318.83 195.72,319.10 199.60,319.20" fill="none" stroke="#000" stroke-width="1.2"/>
<rect x="161.6" y="280.8" width="38.0" height="38.69999999999999" fill="none" stroke="#000" stroke-width="1"/>
<line x1="157.6" y1="224" x2="175" y2="224" stroke="#333" stroke-width="1.1" stroke-dasharray="2.6,1.7"/>
<line x1="157.6" y1="238.8" x2="175.2" y2="238.8" stroke="#000" stroke-width="1.8"/>
<rect x="158.6" y="250.3" width="17.3" height="4.3" fill="#c8c8c8"/>
<text x="183.9" y="226.8" font-size="8.5" font-weight="bold" text-anchor="start" fill="#000" textLength="67.2" lengthAdjust="spacing">isotype control</text>
<text x="183.9" y="240.9" font-size="8.5" font-weight="bold" text-anchor="start" fill="#000" textLength="11.6" lengthAdjust="spacing">w t</text>
<text x="183.9" y="254.6" font-size="8.5" font-weight="bold" text-anchor="start" fill="#000" textLength="59.2" lengthAdjust="spacing">Stat5b-CA  tg</text>
</svg></body></html>
